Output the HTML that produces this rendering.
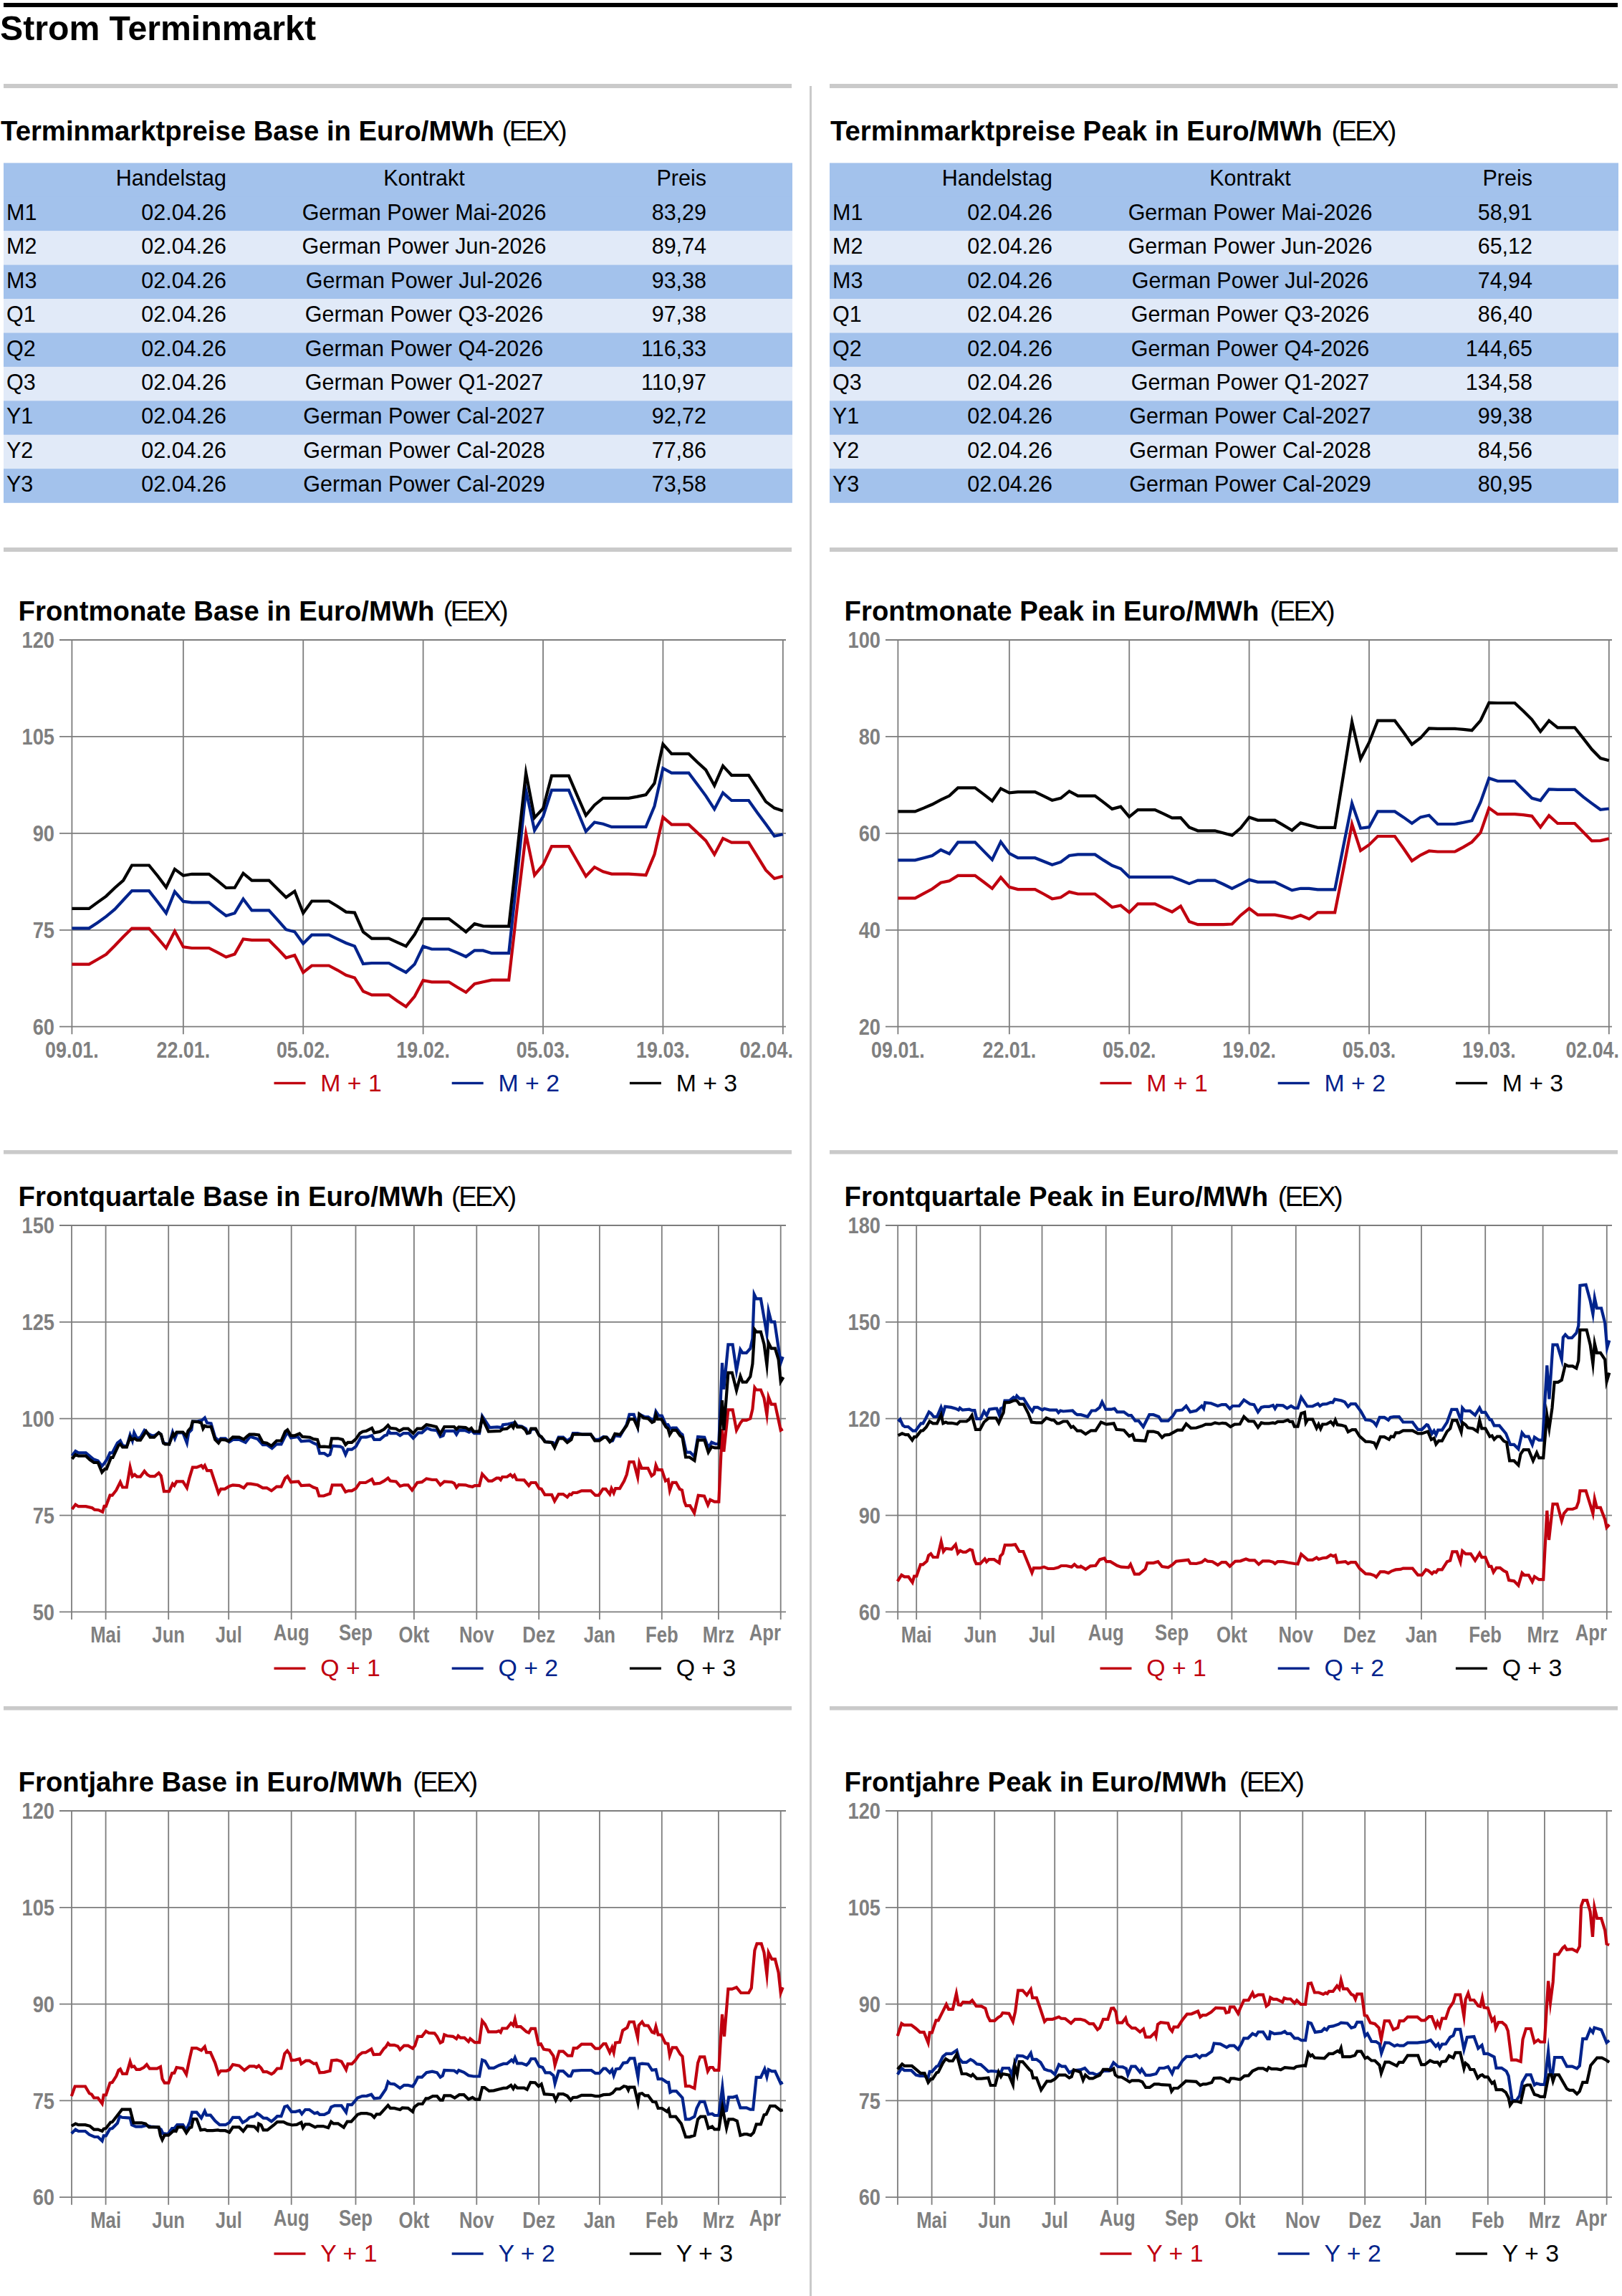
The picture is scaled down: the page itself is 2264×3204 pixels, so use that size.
<!DOCTYPE html>
<html><head><meta charset="utf-8"><title>Strom Terminmarkt</title>
<style>
html,body{margin:0;padding:0;background:#fff;}
body{width:2264px;height:3204px;position:relative;overflow:hidden;font-family:"Liberation Sans",sans-serif;color:#000;}
.a{position:absolute;}
.bar{position:absolute;background:#cacaca;}
</style></head><body>

<svg class="a" style="left:0;top:0" width="2264" height="3204" viewBox="0 0 2264 3204" font-family="Liberation Sans, sans-serif">
<rect x="5.00" y="4.00" width="2253.00" height="6.00" fill="#000"/>
<text x="0.00" y="55.50" font-size="48.2" font-weight="bold" text-anchor="start" fill="#000" >Strom Terminmarkt</text>
<rect x="5.00" y="117.00" width="1100.00" height="6.00" fill="#cacaca"/>
<rect x="1158.00" y="117.00" width="1100.00" height="6.00" fill="#cacaca"/>
<rect x="1130.00" y="120.00" width="3.00" height="3084.00" fill="#cacaca"/>
<text x="1.10" y="196" font-size="38.3" font-weight="bold">Terminmarktpreise Base in Euro/MWh</text>
<text x="700.70" y="196" font-size="38" letter-spacing="-2.6">(EEX)</text>
<rect x="5.00" y="227.40" width="1101.00" height="47.71" fill="#a3c2ec"/>
<rect x="5.00" y="274.81" width="1101.00" height="47.71" fill="#a3c2ec"/>
<rect x="5.00" y="322.22" width="1101.00" height="47.71" fill="#e1eaf8"/>
<rect x="5.00" y="369.63" width="1101.00" height="47.71" fill="#a3c2ec"/>
<rect x="5.00" y="417.04" width="1101.00" height="47.71" fill="#e1eaf8"/>
<rect x="5.00" y="464.45" width="1101.00" height="47.71" fill="#a3c2ec"/>
<rect x="5.00" y="511.86" width="1101.00" height="47.71" fill="#e1eaf8"/>
<rect x="5.00" y="559.27" width="1101.00" height="47.71" fill="#a3c2ec"/>
<rect x="5.00" y="606.68" width="1101.00" height="47.71" fill="#e1eaf8"/>
<rect x="5.00" y="654.09" width="1101.00" height="47.71" fill="#a3c2ec"/>
<text x="316.00" y="259.40" font-size="30.5" font-weight="normal" text-anchor="end" fill="#000" >Handelstag</text>
<text x="592.00" y="259.40" font-size="30.5" font-weight="normal" text-anchor="middle" fill="#000" >Kontrakt</text>
<text x="986.00" y="259.40" font-size="30.5" font-weight="normal" text-anchor="end" fill="#000" >Preis</text>
<text x="9.00" y="306.84" font-size="30.5" font-weight="normal" text-anchor="start" fill="#000" >M1</text>
<text x="316.00" y="306.84" font-size="30.5" font-weight="normal" text-anchor="end" fill="#000" >02.04.26</text>
<text x="592.00" y="306.84" font-size="30.5" font-weight="normal" text-anchor="middle" fill="#000" >German Power Mai-2026</text>
<text x="986.00" y="306.84" font-size="30.5" font-weight="normal" text-anchor="end" fill="#000" >83,29</text>
<text x="9.00" y="354.28" font-size="30.5" font-weight="normal" text-anchor="start" fill="#000" >M2</text>
<text x="316.00" y="354.28" font-size="30.5" font-weight="normal" text-anchor="end" fill="#000" >02.04.26</text>
<text x="592.00" y="354.28" font-size="30.5" font-weight="normal" text-anchor="middle" fill="#000" >German Power Jun-2026</text>
<text x="986.00" y="354.28" font-size="30.5" font-weight="normal" text-anchor="end" fill="#000" >89,74</text>
<text x="9.00" y="401.72" font-size="30.5" font-weight="normal" text-anchor="start" fill="#000" >M3</text>
<text x="316.00" y="401.72" font-size="30.5" font-weight="normal" text-anchor="end" fill="#000" >02.04.26</text>
<text x="592.00" y="401.72" font-size="30.5" font-weight="normal" text-anchor="middle" fill="#000" >German Power Jul-2026</text>
<text x="986.00" y="401.72" font-size="30.5" font-weight="normal" text-anchor="end" fill="#000" >93,38</text>
<text x="9.00" y="449.16" font-size="30.5" font-weight="normal" text-anchor="start" fill="#000" >Q1</text>
<text x="316.00" y="449.16" font-size="30.5" font-weight="normal" text-anchor="end" fill="#000" >02.04.26</text>
<text x="592.00" y="449.16" font-size="30.5" font-weight="normal" text-anchor="middle" fill="#000" >German Power Q3-2026</text>
<text x="986.00" y="449.16" font-size="30.5" font-weight="normal" text-anchor="end" fill="#000" >97,38</text>
<text x="9.00" y="496.60" font-size="30.5" font-weight="normal" text-anchor="start" fill="#000" >Q2</text>
<text x="316.00" y="496.60" font-size="30.5" font-weight="normal" text-anchor="end" fill="#000" >02.04.26</text>
<text x="592.00" y="496.60" font-size="30.5" font-weight="normal" text-anchor="middle" fill="#000" >German Power Q4-2026</text>
<text x="986.00" y="496.60" font-size="30.5" font-weight="normal" text-anchor="end" fill="#000" >116,33</text>
<text x="9.00" y="544.04" font-size="30.5" font-weight="normal" text-anchor="start" fill="#000" >Q3</text>
<text x="316.00" y="544.04" font-size="30.5" font-weight="normal" text-anchor="end" fill="#000" >02.04.26</text>
<text x="592.00" y="544.04" font-size="30.5" font-weight="normal" text-anchor="middle" fill="#000" >German Power Q1-2027</text>
<text x="986.00" y="544.04" font-size="30.5" font-weight="normal" text-anchor="end" fill="#000" >110,97</text>
<text x="9.00" y="591.48" font-size="30.5" font-weight="normal" text-anchor="start" fill="#000" >Y1</text>
<text x="316.00" y="591.48" font-size="30.5" font-weight="normal" text-anchor="end" fill="#000" >02.04.26</text>
<text x="592.00" y="591.48" font-size="30.5" font-weight="normal" text-anchor="middle" fill="#000" >German Power Cal-2027</text>
<text x="986.00" y="591.48" font-size="30.5" font-weight="normal" text-anchor="end" fill="#000" >92,72</text>
<text x="9.00" y="638.92" font-size="30.5" font-weight="normal" text-anchor="start" fill="#000" >Y2</text>
<text x="316.00" y="638.92" font-size="30.5" font-weight="normal" text-anchor="end" fill="#000" >02.04.26</text>
<text x="592.00" y="638.92" font-size="30.5" font-weight="normal" text-anchor="middle" fill="#000" >German Power Cal-2028</text>
<text x="986.00" y="638.92" font-size="30.5" font-weight="normal" text-anchor="end" fill="#000" >77,86</text>
<text x="9.00" y="686.36" font-size="30.5" font-weight="normal" text-anchor="start" fill="#000" >Y3</text>
<text x="316.00" y="686.36" font-size="30.5" font-weight="normal" text-anchor="end" fill="#000" >02.04.26</text>
<text x="592.00" y="686.36" font-size="30.5" font-weight="normal" text-anchor="middle" fill="#000" >German Power Cal-2029</text>
<text x="986.00" y="686.36" font-size="30.5" font-weight="normal" text-anchor="end" fill="#000" >73,58</text>
<text x="1159.00" y="196" font-size="38.3" font-weight="bold">Terminmarktpreise Peak in Euro/MWh</text>
<text x="1858.50" y="196" font-size="38" letter-spacing="-2.6">(EEX)</text>
<rect x="1158.00" y="227.40" width="1101.00" height="47.71" fill="#a3c2ec"/>
<rect x="1158.00" y="274.81" width="1101.00" height="47.71" fill="#a3c2ec"/>
<rect x="1158.00" y="322.22" width="1101.00" height="47.71" fill="#e1eaf8"/>
<rect x="1158.00" y="369.63" width="1101.00" height="47.71" fill="#a3c2ec"/>
<rect x="1158.00" y="417.04" width="1101.00" height="47.71" fill="#e1eaf8"/>
<rect x="1158.00" y="464.45" width="1101.00" height="47.71" fill="#a3c2ec"/>
<rect x="1158.00" y="511.86" width="1101.00" height="47.71" fill="#e1eaf8"/>
<rect x="1158.00" y="559.27" width="1101.00" height="47.71" fill="#a3c2ec"/>
<rect x="1158.00" y="606.68" width="1101.00" height="47.71" fill="#e1eaf8"/>
<rect x="1158.00" y="654.09" width="1101.00" height="47.71" fill="#a3c2ec"/>
<text x="1469.00" y="259.40" font-size="30.5" font-weight="normal" text-anchor="end" fill="#000" >Handelstag</text>
<text x="1745.00" y="259.40" font-size="30.5" font-weight="normal" text-anchor="middle" fill="#000" >Kontrakt</text>
<text x="2139.00" y="259.40" font-size="30.5" font-weight="normal" text-anchor="end" fill="#000" >Preis</text>
<text x="1162.00" y="306.84" font-size="30.5" font-weight="normal" text-anchor="start" fill="#000" >M1</text>
<text x="1469.00" y="306.84" font-size="30.5" font-weight="normal" text-anchor="end" fill="#000" >02.04.26</text>
<text x="1745.00" y="306.84" font-size="30.5" font-weight="normal" text-anchor="middle" fill="#000" >German Power Mai-2026</text>
<text x="2139.00" y="306.84" font-size="30.5" font-weight="normal" text-anchor="end" fill="#000" >58,91</text>
<text x="1162.00" y="354.28" font-size="30.5" font-weight="normal" text-anchor="start" fill="#000" >M2</text>
<text x="1469.00" y="354.28" font-size="30.5" font-weight="normal" text-anchor="end" fill="#000" >02.04.26</text>
<text x="1745.00" y="354.28" font-size="30.5" font-weight="normal" text-anchor="middle" fill="#000" >German Power Jun-2026</text>
<text x="2139.00" y="354.28" font-size="30.5" font-weight="normal" text-anchor="end" fill="#000" >65,12</text>
<text x="1162.00" y="401.72" font-size="30.5" font-weight="normal" text-anchor="start" fill="#000" >M3</text>
<text x="1469.00" y="401.72" font-size="30.5" font-weight="normal" text-anchor="end" fill="#000" >02.04.26</text>
<text x="1745.00" y="401.72" font-size="30.5" font-weight="normal" text-anchor="middle" fill="#000" >German Power Jul-2026</text>
<text x="2139.00" y="401.72" font-size="30.5" font-weight="normal" text-anchor="end" fill="#000" >74,94</text>
<text x="1162.00" y="449.16" font-size="30.5" font-weight="normal" text-anchor="start" fill="#000" >Q1</text>
<text x="1469.00" y="449.16" font-size="30.5" font-weight="normal" text-anchor="end" fill="#000" >02.04.26</text>
<text x="1745.00" y="449.16" font-size="30.5" font-weight="normal" text-anchor="middle" fill="#000" >German Power Q3-2026</text>
<text x="2139.00" y="449.16" font-size="30.5" font-weight="normal" text-anchor="end" fill="#000" >86,40</text>
<text x="1162.00" y="496.60" font-size="30.5" font-weight="normal" text-anchor="start" fill="#000" >Q2</text>
<text x="1469.00" y="496.60" font-size="30.5" font-weight="normal" text-anchor="end" fill="#000" >02.04.26</text>
<text x="1745.00" y="496.60" font-size="30.5" font-weight="normal" text-anchor="middle" fill="#000" >German Power Q4-2026</text>
<text x="2139.00" y="496.60" font-size="30.5" font-weight="normal" text-anchor="end" fill="#000" >144,65</text>
<text x="1162.00" y="544.04" font-size="30.5" font-weight="normal" text-anchor="start" fill="#000" >Q3</text>
<text x="1469.00" y="544.04" font-size="30.5" font-weight="normal" text-anchor="end" fill="#000" >02.04.26</text>
<text x="1745.00" y="544.04" font-size="30.5" font-weight="normal" text-anchor="middle" fill="#000" >German Power Q1-2027</text>
<text x="2139.00" y="544.04" font-size="30.5" font-weight="normal" text-anchor="end" fill="#000" >134,58</text>
<text x="1162.00" y="591.48" font-size="30.5" font-weight="normal" text-anchor="start" fill="#000" >Y1</text>
<text x="1469.00" y="591.48" font-size="30.5" font-weight="normal" text-anchor="end" fill="#000" >02.04.26</text>
<text x="1745.00" y="591.48" font-size="30.5" font-weight="normal" text-anchor="middle" fill="#000" >German Power Cal-2027</text>
<text x="2139.00" y="591.48" font-size="30.5" font-weight="normal" text-anchor="end" fill="#000" >99,38</text>
<text x="1162.00" y="638.92" font-size="30.5" font-weight="normal" text-anchor="start" fill="#000" >Y2</text>
<text x="1469.00" y="638.92" font-size="30.5" font-weight="normal" text-anchor="end" fill="#000" >02.04.26</text>
<text x="1745.00" y="638.92" font-size="30.5" font-weight="normal" text-anchor="middle" fill="#000" >German Power Cal-2028</text>
<text x="2139.00" y="638.92" font-size="30.5" font-weight="normal" text-anchor="end" fill="#000" >84,56</text>
<text x="1162.00" y="686.36" font-size="30.5" font-weight="normal" text-anchor="start" fill="#000" >Y3</text>
<text x="1469.00" y="686.36" font-size="30.5" font-weight="normal" text-anchor="end" fill="#000" >02.04.26</text>
<text x="1745.00" y="686.36" font-size="30.5" font-weight="normal" text-anchor="middle" fill="#000" >German Power Cal-2029</text>
<text x="2139.00" y="686.36" font-size="30.5" font-weight="normal" text-anchor="end" fill="#000" >80,95</text>
<rect x="5.00" y="764.00" width="1100.00" height="6.00" fill="#cacaca"/>
<rect x="1158.00" y="764.00" width="1100.00" height="6.00" fill="#cacaca"/>
<rect x="5.00" y="1605.00" width="1100.00" height="5.50" fill="#cacaca"/>
<rect x="1158.00" y="1605.00" width="1100.00" height="5.50" fill="#cacaca"/>
<rect x="5.00" y="2381.00" width="1100.00" height="5.50" fill="#cacaca"/>
<rect x="1158.00" y="2381.00" width="1100.00" height="5.50" fill="#cacaca"/>
<text x="25.60" y="865.70" font-size="38.3" font-weight="bold">Frontmonate Base in Euro/MWh</text>
<text x="618.70" y="865.70" font-size="38" letter-spacing="-2.6">(EEX)</text>
<line x1="83" y1="893.00" x2="1097" y2="893.00" stroke="#7d7d7d" stroke-width="1.8"/>
<g transform="translate(76.00,904.20) scale(0.88,1)"><text x="0" y="0" font-size="31" font-weight="bold" text-anchor="end" fill="#7f7f7f">120</text></g>
<line x1="83" y1="1027.92" x2="1097" y2="1027.92" stroke="#7d7d7d" stroke-width="1.8"/>
<g transform="translate(76.00,1039.12) scale(0.88,1)"><text x="0" y="0" font-size="31" font-weight="bold" text-anchor="end" fill="#7f7f7f">105</text></g>
<line x1="83" y1="1162.85" x2="1097" y2="1162.85" stroke="#7d7d7d" stroke-width="1.8"/>
<g transform="translate(76.00,1174.05) scale(0.88,1)"><text x="0" y="0" font-size="31" font-weight="bold" text-anchor="end" fill="#7f7f7f">90</text></g>
<line x1="83" y1="1297.78" x2="1097" y2="1297.78" stroke="#7d7d7d" stroke-width="1.8"/>
<g transform="translate(76.00,1308.98) scale(0.88,1)"><text x="0" y="0" font-size="31" font-weight="bold" text-anchor="end" fill="#7f7f7f">75</text></g>
<line x1="83" y1="1432.70" x2="1097" y2="1432.70" stroke="#7d7d7d" stroke-width="1.8"/>
<g transform="translate(76.00,1443.90) scale(0.88,1)"><text x="0" y="0" font-size="31" font-weight="bold" text-anchor="end" fill="#7f7f7f">60</text></g>
<line x1="100.40" y1="893.00" x2="100.40" y2="1443.20" stroke="#7d7d7d" stroke-width="1.8"/>
<line x1="255.84" y1="893.00" x2="255.84" y2="1443.20" stroke="#7d7d7d" stroke-width="1.8"/>
<line x1="423.24" y1="893.00" x2="423.24" y2="1443.20" stroke="#7d7d7d" stroke-width="1.8"/>
<line x1="590.64" y1="893.00" x2="590.64" y2="1443.20" stroke="#7d7d7d" stroke-width="1.8"/>
<line x1="758.03" y1="893.00" x2="758.03" y2="1443.20" stroke="#7d7d7d" stroke-width="1.8"/>
<line x1="925.43" y1="893.00" x2="925.43" y2="1443.20" stroke="#7d7d7d" stroke-width="1.8"/>
<line x1="1092.83" y1="893.00" x2="1092.83" y2="1443.20" stroke="#7d7d7d" stroke-width="1.8"/>
<g transform="translate(100.40,1475.80) scale(0.866,1)"><text x="0" y="0" font-size="31" font-weight="bold" text-anchor="middle" fill="#7f7f7f">09.01.</text></g>
<g transform="translate(255.84,1475.80) scale(0.866,1)"><text x="0" y="0" font-size="31" font-weight="bold" text-anchor="middle" fill="#7f7f7f">22.01.</text></g>
<g transform="translate(423.24,1475.80) scale(0.866,1)"><text x="0" y="0" font-size="31" font-weight="bold" text-anchor="middle" fill="#7f7f7f">05.02.</text></g>
<g transform="translate(590.64,1475.80) scale(0.866,1)"><text x="0" y="0" font-size="31" font-weight="bold" text-anchor="middle" fill="#7f7f7f">19.02.</text></g>
<g transform="translate(758.03,1475.80) scale(0.866,1)"><text x="0" y="0" font-size="31" font-weight="bold" text-anchor="middle" fill="#7f7f7f">05.03.</text></g>
<g transform="translate(925.43,1475.80) scale(0.866,1)"><text x="0" y="0" font-size="31" font-weight="bold" text-anchor="middle" fill="#7f7f7f">19.03.</text></g>
<g transform="translate(1107.00,1475.80) scale(0.866,1)"><text x="0" y="0" font-size="31" font-weight="bold" text-anchor="end" fill="#7f7f7f">02.04.</text></g>
<polyline points="100.4,1345.6 112.4,1345.6 124.3,1345.6 136.3,1338.7 148.2,1331.8 160.2,1319.8 172.1,1307.2 184.1,1295.6 196.1,1295.6 208.0,1295.6 220.0,1308.8 231.9,1323.0 243.9,1299.4 255.8,1321.4 267.8,1323.0 279.8,1323.0 291.7,1323.0 303.7,1329.2 315.6,1335.5 327.6,1331.4 339.5,1310.4 351.5,1311.9 363.5,1311.9 375.4,1311.9 387.4,1323.9 399.3,1336.5 411.3,1333.0 423.2,1356.9 435.2,1347.5 447.2,1347.5 459.1,1347.5 471.1,1353.8 483.0,1360.7 495.0,1364.5 506.9,1383.3 518.9,1388.4 530.9,1388.4 542.8,1388.4 554.8,1396.9 566.7,1404.7 578.7,1390.6 590.6,1368.1 602.6,1370.3 614.6,1370.3 626.5,1370.3 638.5,1377.7 650.4,1384.7 662.4,1372.9 674.3,1370.3 686.3,1367.7 698.2,1367.7 710.2,1367.7 722.2,1262.9 734.1,1163.5 746.1,1221.2 758.0,1206.8 770.0,1181.1 781.9,1181.1 793.9,1181.1 805.9,1202.0 817.8,1222.8 829.8,1210.0 841.7,1216.4 853.7,1219.6 865.6,1219.6 877.6,1219.6 889.6,1220.3 901.5,1221.2 913.5,1192.4 925.4,1140.4 937.4,1150.7 949.3,1150.7 961.3,1150.7 973.3,1161.9 985.2,1173.1 997.2,1192.4 1009.1,1169.9 1021.1,1175.7 1033.0,1175.7 1045.0,1175.7 1057.0,1194.9 1068.9,1214.2 1080.9,1226.0 1092.8,1222.8" fill="none" stroke="#c0000f" stroke-width="4.2" stroke-linejoin="miter" stroke-miterlimit="10"/>
<polyline points="100.4,1295.3 112.4,1295.3 124.3,1295.3 136.3,1287.4 148.2,1278.9 160.2,1268.9 172.1,1256.0 184.1,1243.1 196.1,1243.1 208.0,1243.1 220.0,1258.5 231.9,1274.2 243.9,1244.3 255.8,1257.9 267.8,1259.4 279.8,1259.4 291.7,1259.4 303.7,1268.9 315.6,1278.0 327.6,1274.2 339.5,1254.4 351.5,1270.4 363.5,1270.4 375.4,1270.4 387.4,1283.6 399.3,1297.2 411.3,1300.3 423.2,1316.7 435.2,1304.7 447.2,1304.7 459.1,1304.7 471.1,1310.4 483.0,1316.0 495.0,1320.4 506.9,1345.0 518.9,1344.0 530.9,1344.0 542.8,1344.0 554.8,1350.6 566.7,1356.9 578.7,1345.6 590.6,1320.6 602.6,1324.5 614.6,1324.5 626.5,1324.5 638.5,1329.6 650.4,1335.0 662.4,1326.4 674.3,1326.4 686.3,1330.2 698.2,1330.2 710.2,1330.2 722.2,1218.0 734.1,1102.6 746.1,1158.7 758.0,1139.5 770.0,1102.6 781.9,1102.6 793.9,1102.6 805.9,1131.5 817.8,1160.3 829.8,1147.5 841.7,1149.7 853.7,1153.9 865.6,1153.9 877.6,1153.9 889.6,1153.9 901.5,1153.9 913.5,1125.0 925.4,1072.1 937.4,1078.6 949.3,1078.6 961.3,1078.6 973.3,1094.6 985.2,1110.6 997.2,1129.2 1009.1,1106.4 1021.1,1117.0 1033.0,1117.0 1045.0,1117.0 1057.0,1134.0 1068.9,1150.0 1080.9,1166.7 1092.8,1164.2" fill="none" stroke="#00238c" stroke-width="4.2" stroke-linejoin="miter" stroke-miterlimit="10"/>
<polyline points="100.4,1267.9 112.4,1267.9 124.3,1267.9 136.3,1259.1 148.2,1250.6 160.2,1239.0 172.1,1228.6 184.1,1207.5 196.1,1207.5 208.0,1207.5 220.0,1222.3 231.9,1238.1 243.9,1212.9 255.8,1221.7 267.8,1219.8 279.8,1219.8 291.7,1219.8 303.7,1229.2 315.6,1239.0 327.6,1238.7 339.5,1218.6 351.5,1228.6 363.5,1228.6 375.4,1228.6 387.4,1240.6 399.3,1252.2 411.3,1243.7 423.2,1274.2 435.2,1257.5 447.2,1257.5 459.1,1257.5 471.1,1264.8 483.0,1272.6 495.0,1273.6 506.9,1300.3 518.9,1309.7 530.9,1309.7 542.8,1309.7 554.8,1315.1 566.7,1320.4 578.7,1304.1 590.6,1282.1 602.6,1282.1 614.6,1282.1 626.5,1282.1 638.5,1291.1 650.4,1300.4 662.4,1289.2 674.3,1292.4 686.3,1292.7 698.2,1292.7 710.2,1292.7 722.2,1186.0 734.1,1078.6 746.1,1141.1 758.0,1128.2 770.0,1082.7 781.9,1082.7 793.9,1082.7 805.9,1110.6 817.8,1137.9 829.8,1123.4 841.7,1113.8 853.7,1113.8 865.6,1113.8 877.6,1113.8 889.6,1111.6 901.5,1109.0 913.5,1093.0 925.4,1038.5 937.4,1051.9 949.3,1051.9 961.3,1051.9 973.3,1063.5 985.2,1074.4 997.2,1096.2 1009.1,1068.9 1021.1,1081.8 1033.0,1081.8 1045.0,1081.8 1057.0,1100.0 1068.9,1118.6 1080.9,1127.6 1092.8,1131.5" fill="none" stroke="#000000" stroke-width="4.2" stroke-linejoin="miter" stroke-miterlimit="10"/>
<rect x="382.50" y="1509.80" width="44.00" height="3.40" fill="#c0000f"/>
<text x="447.30" y="1522.70" font-size="33.8" font-weight="normal" text-anchor="start" fill="#c0000f" >M + 1</text>
<rect x="630.70" y="1509.80" width="44.00" height="3.40" fill="#00238c"/>
<text x="695.50" y="1522.70" font-size="33.8" font-weight="normal" text-anchor="start" fill="#00238c" >M + 2</text>
<rect x="878.90" y="1509.80" width="44.00" height="3.40" fill="#000000"/>
<text x="943.70" y="1522.70" font-size="33.8" font-weight="normal" text-anchor="start" fill="#000000" >M + 3</text>
<text x="1178.60" y="865.70" font-size="38.3" font-weight="bold">Frontmonate Peak in Euro/MWh</text>
<text x="1772.60" y="865.70" font-size="38" letter-spacing="-2.6">(EEX)</text>
<line x1="1236" y1="893.00" x2="2250" y2="893.00" stroke="#7d7d7d" stroke-width="1.8"/>
<g transform="translate(1229.00,904.20) scale(0.88,1)"><text x="0" y="0" font-size="31" font-weight="bold" text-anchor="end" fill="#7f7f7f">100</text></g>
<line x1="1236" y1="1027.92" x2="2250" y2="1027.92" stroke="#7d7d7d" stroke-width="1.8"/>
<g transform="translate(1229.00,1039.12) scale(0.88,1)"><text x="0" y="0" font-size="31" font-weight="bold" text-anchor="end" fill="#7f7f7f">80</text></g>
<line x1="1236" y1="1162.85" x2="2250" y2="1162.85" stroke="#7d7d7d" stroke-width="1.8"/>
<g transform="translate(1229.00,1174.05) scale(0.88,1)"><text x="0" y="0" font-size="31" font-weight="bold" text-anchor="end" fill="#7f7f7f">60</text></g>
<line x1="1236" y1="1297.78" x2="2250" y2="1297.78" stroke="#7d7d7d" stroke-width="1.8"/>
<g transform="translate(1229.00,1308.98) scale(0.88,1)"><text x="0" y="0" font-size="31" font-weight="bold" text-anchor="end" fill="#7f7f7f">40</text></g>
<line x1="1236" y1="1432.70" x2="2250" y2="1432.70" stroke="#7d7d7d" stroke-width="1.8"/>
<g transform="translate(1229.00,1443.90) scale(0.88,1)"><text x="0" y="0" font-size="31" font-weight="bold" text-anchor="end" fill="#7f7f7f">20</text></g>
<line x1="1253.40" y1="893.00" x2="1253.40" y2="1443.20" stroke="#7d7d7d" stroke-width="1.8"/>
<line x1="1408.84" y1="893.00" x2="1408.84" y2="1443.20" stroke="#7d7d7d" stroke-width="1.8"/>
<line x1="1576.24" y1="893.00" x2="1576.24" y2="1443.20" stroke="#7d7d7d" stroke-width="1.8"/>
<line x1="1743.64" y1="893.00" x2="1743.64" y2="1443.20" stroke="#7d7d7d" stroke-width="1.8"/>
<line x1="1911.03" y1="893.00" x2="1911.03" y2="1443.20" stroke="#7d7d7d" stroke-width="1.8"/>
<line x1="2078.43" y1="893.00" x2="2078.43" y2="1443.20" stroke="#7d7d7d" stroke-width="1.8"/>
<line x1="2245.83" y1="893.00" x2="2245.83" y2="1443.20" stroke="#7d7d7d" stroke-width="1.8"/>
<g transform="translate(1253.40,1475.80) scale(0.866,1)"><text x="0" y="0" font-size="31" font-weight="bold" text-anchor="middle" fill="#7f7f7f">09.01.</text></g>
<g transform="translate(1408.84,1475.80) scale(0.866,1)"><text x="0" y="0" font-size="31" font-weight="bold" text-anchor="middle" fill="#7f7f7f">22.01.</text></g>
<g transform="translate(1576.24,1475.80) scale(0.866,1)"><text x="0" y="0" font-size="31" font-weight="bold" text-anchor="middle" fill="#7f7f7f">05.02.</text></g>
<g transform="translate(1743.64,1475.80) scale(0.866,1)"><text x="0" y="0" font-size="31" font-weight="bold" text-anchor="middle" fill="#7f7f7f">19.02.</text></g>
<g transform="translate(1911.03,1475.80) scale(0.866,1)"><text x="0" y="0" font-size="31" font-weight="bold" text-anchor="middle" fill="#7f7f7f">05.03.</text></g>
<g transform="translate(2078.43,1475.80) scale(0.866,1)"><text x="0" y="0" font-size="31" font-weight="bold" text-anchor="middle" fill="#7f7f7f">19.03.</text></g>
<g transform="translate(2260.00,1475.80) scale(0.866,1)"><text x="0" y="0" font-size="31" font-weight="bold" text-anchor="end" fill="#7f7f7f">02.04.</text></g>
<polyline points="1253.4,1253.3 1265.4,1253.3 1277.3,1253.3 1289.3,1246.9 1301.2,1240.5 1313.2,1231.8 1325.1,1229.2 1337.1,1221.9 1349.1,1221.9 1361.0,1221.9 1373.0,1230.8 1384.9,1239.8 1396.9,1224.4 1408.8,1237.9 1420.8,1241.1 1432.8,1241.1 1444.7,1241.1 1456.7,1247.5 1468.6,1254.2 1480.6,1252.3 1492.5,1244.6 1504.5,1247.5 1516.5,1247.5 1528.4,1247.5 1540.4,1256.5 1552.3,1266.1 1564.3,1263.5 1576.2,1273.2 1588.2,1261.3 1600.2,1261.3 1612.1,1261.3 1624.1,1267.1 1636.0,1272.5 1648.0,1264.5 1659.9,1286.0 1671.9,1290.2 1683.9,1290.2 1695.8,1290.2 1707.8,1290.2 1719.7,1289.5 1731.7,1277.3 1743.6,1267.7 1755.6,1276.6 1767.6,1276.6 1779.5,1276.6 1791.5,1278.9 1803.4,1281.5 1815.4,1277.3 1827.3,1282.4 1839.3,1273.4 1851.2,1273.4 1863.2,1273.4 1875.2,1212.5 1887.1,1150.0 1899.1,1186.9 1911.0,1178.9 1923.0,1167.0 1934.9,1167.0 1946.9,1167.0 1958.9,1183.7 1970.8,1201.3 1982.8,1193.3 1994.7,1187.5 2006.7,1188.5 2018.6,1188.5 2030.6,1188.5 2042.6,1182.1 2054.5,1175.0 2066.5,1161.9 2078.4,1127.6 2090.4,1136.2 2102.3,1136.2 2114.3,1136.2 2126.3,1137.2 2138.2,1138.8 2150.2,1154.2 2162.1,1138.1 2174.1,1149.0 2186.0,1149.0 2198.0,1149.0 2210.0,1161.2 2221.9,1173.4 2233.9,1173.1 2245.8,1170.2" fill="none" stroke="#c0000f" stroke-width="4.2" stroke-linejoin="miter" stroke-miterlimit="10"/>
<polyline points="1253.4,1200.4 1265.4,1200.4 1277.3,1200.4 1289.3,1197.2 1301.2,1194.0 1313.2,1186.0 1325.1,1191.4 1337.1,1175.4 1349.1,1175.4 1361.0,1175.4 1373.0,1187.6 1384.9,1199.7 1396.9,1174.7 1408.8,1190.8 1420.8,1197.2 1432.8,1197.2 1444.7,1197.2 1456.7,1202.0 1468.6,1206.8 1480.6,1202.9 1492.5,1194.0 1504.5,1192.4 1516.5,1192.4 1528.4,1192.4 1540.4,1200.4 1552.3,1207.8 1564.3,1212.2 1576.2,1223.8 1588.2,1223.8 1600.2,1223.8 1612.1,1223.8 1624.1,1223.8 1636.0,1223.8 1648.0,1228.3 1659.9,1233.1 1671.9,1228.6 1683.9,1228.6 1695.8,1228.6 1707.8,1234.0 1719.7,1239.8 1731.7,1234.0 1743.6,1227.6 1755.6,1230.8 1767.6,1230.8 1779.5,1230.8 1791.5,1236.6 1803.4,1242.3 1815.4,1239.8 1827.3,1239.8 1839.3,1241.4 1851.2,1241.4 1863.2,1241.4 1875.2,1180.5 1887.1,1121.1 1899.1,1155.8 1911.0,1154.2 1923.0,1132.4 1934.9,1132.4 1946.9,1132.4 1958.9,1140.4 1970.8,1149.0 1982.8,1140.4 1994.7,1137.8 2006.7,1150.0 2018.6,1150.0 2030.6,1150.0 2042.6,1147.8 2054.5,1145.2 2066.5,1119.5 2078.4,1085.9 2090.4,1090.0 2102.3,1090.0 2114.3,1090.0 2126.3,1101.9 2138.2,1113.8 2150.2,1117.0 2162.1,1101.3 2174.1,1101.9 2186.0,1101.9 2198.0,1101.9 2210.0,1112.2 2221.9,1121.1 2233.9,1129.8 2245.8,1128.5" fill="none" stroke="#00238c" stroke-width="4.2" stroke-linejoin="miter" stroke-miterlimit="10"/>
<polyline points="1253.4,1132.4 1265.4,1132.4 1277.3,1132.4 1289.3,1127.6 1301.2,1122.5 1313.2,1116.1 1325.1,1110.6 1337.1,1099.4 1349.1,1099.4 1361.0,1099.4 1373.0,1108.4 1384.9,1117.7 1396.9,1100.4 1408.8,1106.4 1420.8,1105.2 1432.8,1105.2 1444.7,1105.2 1456.7,1110.9 1468.6,1116.7 1480.6,1113.8 1492.5,1104.2 1504.5,1110.6 1516.5,1110.6 1528.4,1110.6 1540.4,1119.6 1552.3,1128.9 1564.3,1125.7 1576.2,1139.8 1588.2,1130.2 1600.2,1130.2 1612.1,1130.2 1624.1,1135.6 1636.0,1141.4 1648.0,1141.1 1659.9,1154.5 1671.9,1159.3 1683.9,1159.3 1695.8,1159.3 1707.8,1162.6 1719.7,1165.8 1731.7,1155.5 1743.6,1140.4 1755.6,1144.6 1767.6,1144.6 1779.5,1144.6 1791.5,1151.6 1803.4,1158.7 1815.4,1148.4 1827.3,1151.6 1839.3,1154.8 1851.2,1154.8 1863.2,1154.8 1875.2,1081.1 1887.1,1007.3 1899.1,1059.3 1911.0,1036.2 1923.0,1005.7 1934.9,1005.7 1946.9,1005.7 1958.9,1021.8 1970.8,1038.7 1982.8,1029.8 1994.7,1016.3 2006.7,1016.9 2018.6,1016.9 2030.6,1016.9 2042.6,1017.9 2054.5,1019.2 2066.5,1005.7 2078.4,980.7 2090.4,981.0 2102.3,981.0 2114.3,981.0 2126.3,992.3 2138.2,1004.1 2150.2,1020.8 2162.1,1005.7 2174.1,1015.3 2186.0,1015.3 2198.0,1015.3 2210.0,1030.4 2221.9,1045.8 2233.9,1058.0 2245.8,1061.2" fill="none" stroke="#000000" stroke-width="4.2" stroke-linejoin="miter" stroke-miterlimit="10"/>
<rect x="1535.50" y="1509.80" width="44.00" height="3.40" fill="#c0000f"/>
<text x="1600.30" y="1522.70" font-size="33.8" font-weight="normal" text-anchor="start" fill="#c0000f" >M + 1</text>
<rect x="1783.70" y="1509.80" width="44.00" height="3.40" fill="#00238c"/>
<text x="1848.50" y="1522.70" font-size="33.8" font-weight="normal" text-anchor="start" fill="#00238c" >M + 2</text>
<rect x="2031.90" y="1509.80" width="44.00" height="3.40" fill="#000000"/>
<text x="2096.70" y="1522.70" font-size="33.8" font-weight="normal" text-anchor="start" fill="#000000" >M + 3</text>
<text x="25.60" y="1682.70" font-size="38.3" font-weight="bold">Frontquartale Base in Euro/MWh</text>
<text x="630.10" y="1682.70" font-size="38" letter-spacing="-2.6">(EEX)</text>
<line x1="83" y1="1710.00" x2="1097" y2="1710.00" stroke="#7d7d7d" stroke-width="1.8"/>
<g transform="translate(76.00,1721.20) scale(0.88,1)"><text x="0" y="0" font-size="31" font-weight="bold" text-anchor="end" fill="#7f7f7f">150</text></g>
<line x1="83" y1="1844.85" x2="1097" y2="1844.85" stroke="#7d7d7d" stroke-width="1.8"/>
<g transform="translate(76.00,1856.05) scale(0.88,1)"><text x="0" y="0" font-size="31" font-weight="bold" text-anchor="end" fill="#7f7f7f">125</text></g>
<line x1="83" y1="1979.70" x2="1097" y2="1979.70" stroke="#7d7d7d" stroke-width="1.8"/>
<g transform="translate(76.00,1990.90) scale(0.88,1)"><text x="0" y="0" font-size="31" font-weight="bold" text-anchor="end" fill="#7f7f7f">100</text></g>
<line x1="83" y1="2114.55" x2="1097" y2="2114.55" stroke="#7d7d7d" stroke-width="1.8"/>
<g transform="translate(76.00,2125.75) scale(0.88,1)"><text x="0" y="0" font-size="31" font-weight="bold" text-anchor="end" fill="#7f7f7f">75</text></g>
<line x1="83" y1="2249.40" x2="1097" y2="2249.40" stroke="#7d7d7d" stroke-width="1.8"/>
<g transform="translate(76.00,2260.60) scale(0.88,1)"><text x="0" y="0" font-size="31" font-weight="bold" text-anchor="end" fill="#7f7f7f">50</text></g>
<line x1="100.00" y1="1710.00" x2="100.00" y2="2259.90" stroke="#7d7d7d" stroke-width="1.8"/>
<line x1="147.60" y1="1710.00" x2="147.60" y2="2259.90" stroke="#7d7d7d" stroke-width="1.8"/>
<line x1="235.20" y1="1710.00" x2="235.20" y2="2259.90" stroke="#7d7d7d" stroke-width="1.8"/>
<line x1="319.20" y1="1710.00" x2="319.20" y2="2259.90" stroke="#7d7d7d" stroke-width="1.8"/>
<line x1="406.70" y1="1710.00" x2="406.70" y2="2259.90" stroke="#7d7d7d" stroke-width="1.8"/>
<line x1="496.50" y1="1710.00" x2="496.50" y2="2259.90" stroke="#7d7d7d" stroke-width="1.8"/>
<line x1="577.90" y1="1710.00" x2="577.90" y2="2259.90" stroke="#7d7d7d" stroke-width="1.8"/>
<line x1="665.30" y1="1710.00" x2="665.30" y2="2259.90" stroke="#7d7d7d" stroke-width="1.8"/>
<line x1="752.20" y1="1710.00" x2="752.20" y2="2259.90" stroke="#7d7d7d" stroke-width="1.8"/>
<line x1="836.90" y1="1710.00" x2="836.90" y2="2259.90" stroke="#7d7d7d" stroke-width="1.8"/>
<line x1="923.80" y1="1710.00" x2="923.80" y2="2259.90" stroke="#7d7d7d" stroke-width="1.8"/>
<line x1="1002.90" y1="1710.00" x2="1002.90" y2="2259.90" stroke="#7d7d7d" stroke-width="1.8"/>
<line x1="1089.70" y1="1710.00" x2="1089.70" y2="2259.90" stroke="#7d7d7d" stroke-width="1.8"/>
<g transform="translate(147.60,2291.70) scale(0.83,1)"><text x="0" y="0" font-size="31" font-weight="bold" text-anchor="middle" fill="#7f7f7f">Mai</text></g>
<g transform="translate(235.20,2291.70) scale(0.83,1)"><text x="0" y="0" font-size="31" font-weight="bold" text-anchor="middle" fill="#7f7f7f">Jun</text></g>
<g transform="translate(319.20,2291.70) scale(0.83,1)"><text x="0" y="0" font-size="31" font-weight="bold" text-anchor="middle" fill="#7f7f7f">Jul</text></g>
<g transform="translate(406.70,2289.10) scale(0.83,1)"><text x="0" y="0" font-size="31" font-weight="bold" text-anchor="middle" fill="#7f7f7f">Aug</text></g>
<g transform="translate(496.50,2289.10) scale(0.83,1)"><text x="0" y="0" font-size="31" font-weight="bold" text-anchor="middle" fill="#7f7f7f">Sep</text></g>
<g transform="translate(577.90,2291.70) scale(0.83,1)"><text x="0" y="0" font-size="31" font-weight="bold" text-anchor="middle" fill="#7f7f7f">Okt</text></g>
<g transform="translate(665.30,2291.70) scale(0.83,1)"><text x="0" y="0" font-size="31" font-weight="bold" text-anchor="middle" fill="#7f7f7f">Nov</text></g>
<g transform="translate(752.20,2291.70) scale(0.83,1)"><text x="0" y="0" font-size="31" font-weight="bold" text-anchor="middle" fill="#7f7f7f">Dez</text></g>
<g transform="translate(836.90,2291.70) scale(0.83,1)"><text x="0" y="0" font-size="31" font-weight="bold" text-anchor="middle" fill="#7f7f7f">Jan</text></g>
<g transform="translate(923.80,2291.70) scale(0.83,1)"><text x="0" y="0" font-size="31" font-weight="bold" text-anchor="middle" fill="#7f7f7f">Feb</text></g>
<g transform="translate(1002.90,2291.70) scale(0.83,1)"><text x="0" y="0" font-size="31" font-weight="bold" text-anchor="middle" fill="#7f7f7f">Mrz</text></g>
<g transform="translate(1090.00,2289.10) scale(0.83,1)"><text x="0" y="0" font-size="31" font-weight="bold" text-anchor="end" fill="#7f7f7f">Apr</text></g>
<polyline points="100.6,2105.9 105.4,2099.5 109.4,2102.2 119.8,2102.2 128.7,2104.3 131.9,2106.7 137.5,2107.2 143.1,2109.9 145.5,2101.9 147.9,2101.9 153.5,2086.7 156.7,2086.7 162.3,2079.5 167.9,2068.2 171.1,2075.5 176.8,2075.5 181.6,2047.4 184.8,2060.2 188.0,2057.8 191.2,2060.6 196.0,2060.6 201.6,2053.0 205.6,2057.8 209.6,2060.2 216.0,2060.2 221.6,2055.4 224.8,2059.4 228.9,2081.1 236.1,2081.1 240.9,2070.7 243.3,2073.1 246.5,2067.4 255.3,2067.4 260.9,2076.3 264.1,2063.4 268.9,2047.7 274.5,2047.7 281.0,2045.0 283.4,2048.2 285.8,2045.0 289.0,2052.2 294.6,2052.2 305.0,2083.5 308.2,2077.9 313.8,2077.9 320.2,2073.9 325.0,2072.3 333.9,2073.1 340.3,2076.3 345.1,2070.7 348.3,2070.7 350.0,2070.7 359.6,2072.3 366.8,2076.3 372.4,2076.3 378.9,2080.3 386.1,2074.7 392.5,2074.7 398.1,2062.6 401.3,2060.2 406.1,2068.2 416.5,2067.4 420.5,2073.1 431.8,2072.3 437.4,2075.5 442.2,2077.1 445.4,2087.5 451.8,2087.5 460.6,2084.3 463.8,2072.3 476.6,2072.3 482.3,2081.9 486.3,2080.3 491.1,2080.3 496.7,2077.1 502.3,2069.0 510.3,2069.0 519.1,2064.2 522.3,2070.7 530.3,2069.8 536.0,2066.6 541.6,2062.6 544.8,2066.6 552.8,2067.4 558.4,2073.9 564.0,2072.3 569.6,2072.3 575.2,2079.5 582.4,2069.0 588.9,2068.2 595.3,2063.4 603.3,2065.0 609.0,2065.0 614.6,2072.3 620.2,2067.4 630.6,2068.2 633.9,2069.8 637.1,2075.5 640.3,2071.8 649.9,2072.3 654.7,2073.9 659.5,2074.7 662.7,2073.1 669.1,2073.1 673.1,2057.0 681.9,2066.6 686.8,2066.6 693.2,2062.6 696.4,2062.6 698.8,2065.0 701.2,2061.0 707.6,2061.0 712.4,2057.8 715.6,2061.0 718.0,2058.6 721.2,2065.0 731.6,2065.4 738.1,2073.1 741.3,2069.0 747.7,2069.0 752.5,2077.1 755.7,2077.9 760.5,2085.9 770.1,2085.9 774.1,2094.7 779.7,2085.1 786.1,2085.1 791.8,2089.1 795.0,2085.1 797.4,2085.9 799.8,2083.0 805.4,2083.0 811.8,2080.3 824.6,2080.3 831.0,2086.7 835.8,2086.7 841.5,2077.9 845.5,2077.9 851.1,2085.1 853.5,2077.1 856.7,2083.5 859.1,2077.1 860.0,2077.1 865.1,2077.1 871.1,2066.9 874.8,2057.7 878.5,2040.1 884.5,2040.1 890.1,2061.4 892.4,2041.0 895.6,2048.9 904.4,2048.9 909.5,2059.5 913.2,2056.8 915.5,2044.7 918.3,2051.2 923.8,2051.2 928.9,2066.5 932.6,2064.6 934.9,2079.9 938.6,2068.8 943.7,2068.8 948.8,2078.0 952.0,2079.4 955.3,2095.6 957.6,2101.2 963.1,2101.2 969.1,2111.3 974.7,2086.8 983.0,2087.7 988.1,2100.2 991.3,2092.8 997.3,2095.6 1003.3,2095.6 1008.0,1994.2 1010.3,2025.8 1016.4,1967.3 1022.6,1967.3 1028.0,1995.8 1033.4,1985.8 1036.5,1981.9 1041.9,1981.9 1047.3,1979.6 1050.4,1966.5 1053.4,1936.4 1055.7,1939.5 1061.9,1939.5 1066.5,1951.1 1070.4,1974.2 1072.7,1949.5 1076.6,1959.6 1081.9,1959.6 1089.7,1995.8 1092.7,1994.2" fill="none" stroke="#c0000f" stroke-width="4.2" stroke-linejoin="miter" stroke-miterlimit="10"/>
<polyline points="100.6,2031.4 105.4,2025.0 109.4,2027.4 119.8,2027.4 125.5,2032.2 130.3,2036.2 136.7,2038.6 142.3,2045.8 146.3,2041.0 149.5,2036.2 153.5,2027.4 156.7,2027.4 163.9,2013.7 167.9,2010.5 171.1,2016.9 176.8,2018.6 181.6,2002.5 184.8,2010.5 187.2,1999.3 191.2,2007.3 196.0,2005.7 201.6,1996.1 207.2,2000.9 212.0,2003.3 216.0,2003.3 221.6,1999.3 224.8,2001.7 228.1,2013.7 236.1,2015.3 240.9,1998.5 244.1,2007.3 247.3,1999.3 255.3,1999.3 260.9,2013.7 263.3,1999.3 267.3,1995.3 268.9,1983.6 276.1,1983.3 281.8,1982.0 285.8,1978.5 289.0,1985.7 294.6,1986.5 300.2,2005.7 305.0,2010.5 308.2,2007.3 314.6,2007.3 320.2,2012.1 325.0,2008.9 333.9,2008.9 342.7,2012.9 348.3,2005.7 350.0,2004.9 359.6,2008.1 366.8,2016.1 372.4,2016.1 379.7,2021.0 386.1,2015.3 392.5,2015.3 398.1,2004.1 401.3,1998.5 406.1,2006.5 415.7,2004.9 420.5,2011.3 431.8,2010.5 437.4,2013.7 443.0,2016.1 446.2,2028.2 452.6,2028.2 457.4,2031.4 460.6,2029.8 463.8,2017.7 475.0,2018.6 478.2,2020.2 482.3,2029.8 485.5,2022.6 491.1,2022.6 496.7,2018.6 503.9,2005.7 511.9,2005.4 519.1,2003.3 522.3,2008.9 530.3,2008.9 536.8,2003.3 540.0,2002.5 542.4,1996.9 544.8,2000.1 553.6,2000.1 558.4,2003.3 563.2,2000.1 570.4,2000.1 576.8,2007.0 584.0,1999.3 588.9,1999.3 596.1,1992.9 601.7,1995.3 609.8,1996.1 614.6,2004.9 618.6,2003.3 621.0,1996.9 633.9,1996.9 637.1,2001.7 640.3,1996.1 649.1,1996.1 654.7,1998.5 657.9,1996.1 661.9,2000.1 669.1,2000.1 673.1,1976.1 683.6,1992.1 694.0,1991.3 700.4,1992.1 702.0,1988.1 709.2,1987.3 715.6,1985.7 718.8,1984.9 722.0,1989.7 728.4,1990.5 734.0,1993.7 736.5,2000.1 739.7,1999.3 741.3,1994.5 747.7,1994.5 752.5,2002.5 758.9,2008.9 761.3,2012.1 771.7,2012.9 774.1,2017.7 779.7,2005.7 786.1,2005.7 791.8,2010.5 797.4,2006.5 799.8,2000.1 806.2,2000.1 813.4,2001.7 824.6,2001.7 830.2,2008.9 835.8,2008.9 842.3,2004.9 847.1,2005.7 851.9,2011.3 855.1,2010.5 858.3,2003.3 865.4,2004.3 874.6,1988.1 878.5,1973.9 884.7,1973.9 890.1,1991.2 892.4,1973.4 900.1,1977.3 904.7,1977.3 910.1,1981.1 913.2,1980.1 915.5,1969.6 919.3,1975.4 924.0,1975.7 929.4,1988.1 932.4,1988.1 935.5,1993.5 938.6,1992.7 944.0,1992.7 949.4,1999.6 952.5,2001.9 957.9,2026.6 963.3,2026.6 969.4,2032.8 974.1,2005.0 983.3,2005.8 988.7,2020.4 993.3,2012.7 998.7,2015.0 1003.3,2015.0 1008.0,1901.8 1010.3,1938.8 1016.4,1876.3 1022.6,1876.3 1028.0,1912.6 1033.4,1883.3 1036.5,1887.9 1041.9,1887.9 1047.3,1881.7 1050.4,1867.9 1052.7,1806.2 1055.7,1812.4 1061.9,1812.4 1070.4,1861.7 1072.7,1829.3 1076.6,1844.7 1081.2,1844.7 1089.7,1901.8 1092.7,1893.3" fill="none" stroke="#00238c" stroke-width="4.2" stroke-linejoin="miter" stroke-miterlimit="10"/>
<polyline points="100.6,2035.9 105.4,2029.8 109.4,2031.7 119.8,2031.7 125.5,2037.0 131.1,2041.0 136.7,2041.0 142.3,2054.6 146.3,2049.8 148.7,2049.8 155.1,2033.8 157.5,2033.8 165.5,2016.9 167.9,2015.3 171.1,2019.4 176.8,2019.4 181.6,2005.7 184.0,2008.9 188.0,2007.3 191.2,2009.7 196.0,2009.7 204.0,1997.4 209.6,2005.7 215.2,2005.7 221.6,1999.3 224.8,2001.7 228.1,2013.7 230.5,2015.3 236.1,2015.3 241.7,2000.9 243.3,2003.3 246.5,1998.5 255.3,1998.5 260.1,2004.1 262.5,1996.9 266.5,1992.1 268.9,1983.6 276.1,1984.1 281.0,1985.7 283.4,1993.7 285.8,1989.7 289.0,1991.0 294.6,1991.0 300.2,2008.9 305.0,2013.7 308.2,2008.9 314.6,2009.3 318.6,2011.3 325.0,2005.4 333.9,2005.7 340.3,2008.6 345.1,2004.1 348.3,2001.7 350.0,2001.7 354.8,2001.7 361.2,2002.5 366.8,2012.9 372.4,2013.7 378.9,2017.7 386.1,2010.5 392.5,2010.5 398.1,1997.7 401.3,1995.3 406.1,2003.3 411.7,2003.3 418.1,2000.6 422.1,2004.9 432.6,2005.7 437.4,2008.1 443.0,2008.9 446.2,2018.9 452.6,2018.6 460.6,2019.4 463.0,2007.3 471.8,2007.3 478.2,2008.9 482.3,2016.1 485.5,2012.9 491.1,2012.9 496.7,2008.1 502.3,2000.1 506.3,1997.7 511.1,1996.9 519.1,1992.9 522.3,1999.3 530.3,1997.7 536.0,1994.5 541.6,1988.9 544.8,1992.9 552.8,1993.7 557.6,1996.9 563.2,1993.7 569.6,1993.7 576.8,2000.1 582.4,1993.7 588.9,1993.7 595.3,1988.1 601.7,1989.4 609.0,1991.0 614.6,2000.9 620.2,1991.0 633.9,1991.0 637.1,1994.5 640.3,1991.3 649.9,1992.1 654.7,1995.3 657.9,1992.9 661.1,1997.7 669.1,1997.7 673.1,1979.3 681.9,1997.7 698.0,1996.9 701.2,1994.5 707.6,1993.7 714.0,1988.9 716.4,1992.1 718.8,1985.7 722.0,1991.3 728.4,1991.3 733.2,1995.3 735.7,2000.1 738.9,1999.3 741.3,1993.7 747.7,1993.7 752.5,2003.3 755.7,2004.9 760.5,2012.1 770.1,2012.9 774.1,2020.2 779.7,2007.3 786.1,2007.3 791.8,2012.9 797.4,2008.9 799.8,2001.7 824.6,2001.7 830.2,2010.5 836.6,2010.5 843.1,2005.7 846.3,2005.7 851.1,2012.1 854.3,2008.9 858.3,2000.9 865.4,2001.9 874.6,1989.6 878.5,1980.4 884.7,1980.4 890.1,1991.9 892.4,1973.4 898.5,1978.8 904.7,1979.6 910.1,1985.0 913.2,1983.5 915.5,1974.2 917.8,1980.4 923.2,1980.4 929.4,1991.2 932.4,1993.5 934.8,2001.9 938.6,1995.8 944.0,1995.8 949.4,2003.5 952.5,2005.8 957.1,2033.5 962.5,2033.5 969.4,2038.2 974.1,2009.7 983.3,2009.7 988.7,2026.6 993.3,2018.9 997.9,2020.4 1003.3,2020.4 1008.0,1954.2 1010.3,1995.8 1016.4,1915.6 1021.8,1915.6 1028.0,1940.3 1033.4,1920.3 1036.5,1928.7 1041.9,1928.7 1047.3,1921.0 1050.4,1903.3 1053.4,1855.5 1055.7,1858.6 1061.9,1858.6 1066.5,1875.6 1070.4,1904.8 1072.7,1874.0 1076.6,1881.7 1081.9,1881.7 1086.6,1897.1 1089.7,1928.0 1093.5,1921.8" fill="none" stroke="#000000" stroke-width="4.2" stroke-linejoin="miter" stroke-miterlimit="10"/>
<rect x="382.50" y="2326.50" width="44.00" height="3.40" fill="#c0000f"/>
<text x="447.30" y="2339.40" font-size="33.8" font-weight="normal" text-anchor="start" fill="#c0000f" >Q + 1</text>
<rect x="630.70" y="2326.50" width="44.00" height="3.40" fill="#00238c"/>
<text x="695.50" y="2339.40" font-size="33.8" font-weight="normal" text-anchor="start" fill="#00238c" >Q + 2</text>
<rect x="878.90" y="2326.50" width="44.00" height="3.40" fill="#000000"/>
<text x="943.70" y="2339.40" font-size="33.8" font-weight="normal" text-anchor="start" fill="#000000" >Q + 3</text>
<text x="1178.60" y="1682.70" font-size="38.3" font-weight="bold">Frontquartale Peak in Euro/MWh</text>
<text x="1783.70" y="1682.70" font-size="38" letter-spacing="-2.6">(EEX)</text>
<line x1="1236" y1="1710.00" x2="2250" y2="1710.00" stroke="#7d7d7d" stroke-width="1.8"/>
<g transform="translate(1229.00,1721.20) scale(0.88,1)"><text x="0" y="0" font-size="31" font-weight="bold" text-anchor="end" fill="#7f7f7f">180</text></g>
<line x1="1236" y1="1844.85" x2="2250" y2="1844.85" stroke="#7d7d7d" stroke-width="1.8"/>
<g transform="translate(1229.00,1856.05) scale(0.88,1)"><text x="0" y="0" font-size="31" font-weight="bold" text-anchor="end" fill="#7f7f7f">150</text></g>
<line x1="1236" y1="1979.70" x2="2250" y2="1979.70" stroke="#7d7d7d" stroke-width="1.8"/>
<g transform="translate(1229.00,1990.90) scale(0.88,1)"><text x="0" y="0" font-size="31" font-weight="bold" text-anchor="end" fill="#7f7f7f">120</text></g>
<line x1="1236" y1="2114.55" x2="2250" y2="2114.55" stroke="#7d7d7d" stroke-width="1.8"/>
<g transform="translate(1229.00,2125.75) scale(0.88,1)"><text x="0" y="0" font-size="31" font-weight="bold" text-anchor="end" fill="#7f7f7f">90</text></g>
<line x1="1236" y1="2249.40" x2="2250" y2="2249.40" stroke="#7d7d7d" stroke-width="1.8"/>
<g transform="translate(1229.00,2260.60) scale(0.88,1)"><text x="0" y="0" font-size="31" font-weight="bold" text-anchor="end" fill="#7f7f7f">60</text></g>
<line x1="1253.20" y1="1710.00" x2="1253.20" y2="2259.90" stroke="#7d7d7d" stroke-width="1.8"/>
<line x1="1279.20" y1="1710.00" x2="1279.20" y2="2259.90" stroke="#7d7d7d" stroke-width="1.8"/>
<line x1="1368.30" y1="1710.00" x2="1368.30" y2="2259.90" stroke="#7d7d7d" stroke-width="1.8"/>
<line x1="1454.50" y1="1710.00" x2="1454.50" y2="2259.90" stroke="#7d7d7d" stroke-width="1.8"/>
<line x1="1543.70" y1="1710.00" x2="1543.70" y2="2259.90" stroke="#7d7d7d" stroke-width="1.8"/>
<line x1="1635.70" y1="1710.00" x2="1635.70" y2="2259.90" stroke="#7d7d7d" stroke-width="1.8"/>
<line x1="1719.40" y1="1710.00" x2="1719.40" y2="2259.90" stroke="#7d7d7d" stroke-width="1.8"/>
<line x1="1808.80" y1="1710.00" x2="1808.80" y2="2259.90" stroke="#7d7d7d" stroke-width="1.8"/>
<line x1="1897.70" y1="1710.00" x2="1897.70" y2="2259.90" stroke="#7d7d7d" stroke-width="1.8"/>
<line x1="1984.00" y1="1710.00" x2="1984.00" y2="2259.90" stroke="#7d7d7d" stroke-width="1.8"/>
<line x1="2073.20" y1="1710.00" x2="2073.20" y2="2259.90" stroke="#7d7d7d" stroke-width="1.8"/>
<line x1="2153.60" y1="1710.00" x2="2153.60" y2="2259.90" stroke="#7d7d7d" stroke-width="1.8"/>
<line x1="2242.80" y1="1710.00" x2="2242.80" y2="2259.90" stroke="#7d7d7d" stroke-width="1.8"/>
<g transform="translate(1279.20,2291.70) scale(0.83,1)"><text x="0" y="0" font-size="31" font-weight="bold" text-anchor="middle" fill="#7f7f7f">Mai</text></g>
<g transform="translate(1368.30,2291.70) scale(0.83,1)"><text x="0" y="0" font-size="31" font-weight="bold" text-anchor="middle" fill="#7f7f7f">Jun</text></g>
<g transform="translate(1454.50,2291.70) scale(0.83,1)"><text x="0" y="0" font-size="31" font-weight="bold" text-anchor="middle" fill="#7f7f7f">Jul</text></g>
<g transform="translate(1543.70,2289.10) scale(0.83,1)"><text x="0" y="0" font-size="31" font-weight="bold" text-anchor="middle" fill="#7f7f7f">Aug</text></g>
<g transform="translate(1635.70,2289.10) scale(0.83,1)"><text x="0" y="0" font-size="31" font-weight="bold" text-anchor="middle" fill="#7f7f7f">Sep</text></g>
<g transform="translate(1719.40,2291.70) scale(0.83,1)"><text x="0" y="0" font-size="31" font-weight="bold" text-anchor="middle" fill="#7f7f7f">Okt</text></g>
<g transform="translate(1808.80,2291.70) scale(0.83,1)"><text x="0" y="0" font-size="31" font-weight="bold" text-anchor="middle" fill="#7f7f7f">Nov</text></g>
<g transform="translate(1897.70,2291.70) scale(0.83,1)"><text x="0" y="0" font-size="31" font-weight="bold" text-anchor="middle" fill="#7f7f7f">Dez</text></g>
<g transform="translate(1984.00,2291.70) scale(0.83,1)"><text x="0" y="0" font-size="31" font-weight="bold" text-anchor="middle" fill="#7f7f7f">Jan</text></g>
<g transform="translate(2073.20,2291.70) scale(0.83,1)"><text x="0" y="0" font-size="31" font-weight="bold" text-anchor="middle" fill="#7f7f7f">Feb</text></g>
<g transform="translate(2153.60,2291.70) scale(0.83,1)"><text x="0" y="0" font-size="31" font-weight="bold" text-anchor="middle" fill="#7f7f7f">Mrz</text></g>
<g transform="translate(2243.00,2289.10) scale(0.83,1)"><text x="0" y="0" font-size="31" font-weight="bold" text-anchor="end" fill="#7f7f7f">Apr</text></g>
<polyline points="1252.8,2206.7 1258.4,2197.9 1262.4,2200.3 1268.0,2200.3 1273.6,2208.3 1276.1,2199.5 1279.3,2199.5 1284.9,2183.4 1288.1,2183.4 1293.7,2178.6 1296.1,2170.6 1299.3,2168.2 1302.5,2173.0 1308.6,2173.0 1313.7,2151.4 1316.9,2165.0 1320.1,2161.0 1328.2,2161.8 1333.8,2155.4 1337.0,2167.4 1340.2,2163.9 1344.2,2165.8 1348.2,2165.8 1353.8,2162.3 1357.0,2163.4 1360.2,2177.0 1362.6,2182.2 1368.2,2182.2 1374.6,2175.4 1377.0,2179.4 1380.3,2176.2 1387.5,2176.2 1394.7,2181.0 1396.3,2171.4 1399.5,2168.2 1402.7,2156.2 1411.5,2156.2 1417.1,2155.4 1422.7,2165.0 1428.3,2165.0 1440.4,2194.7 1442.8,2188.2 1451.6,2188.2 1457.2,2186.6 1462.8,2189.0 1470.8,2189.0 1477.2,2187.4 1481.2,2185.0 1488.5,2185.0 1495.7,2186.6 1499.7,2183.1 1503.7,2186.6 1508.0,2186.6 1508.7,2185.8 1515.3,2189.9 1521.9,2185.4 1529.3,2184.8 1535.0,2176.4 1541.5,2174.5 1544.3,2179.2 1549.9,2179.2 1559.3,2184.8 1564.9,2186.7 1575.2,2187.3 1578.0,2183.0 1583.7,2196.6 1590.2,2196.6 1598.6,2189.5 1601.4,2181.1 1609.9,2181.1 1616.4,2179.2 1622.0,2186.1 1630.5,2187.3 1636.1,2183.9 1641.7,2178.7 1649.2,2177.9 1658.6,2176.8 1661.4,2181.6 1669.8,2182.0 1677.3,2180.1 1682.0,2176.4 1685.7,2178.7 1692.3,2179.2 1699.8,2183.9 1705.4,2180.1 1711.0,2180.1 1716.6,2185.8 1724.1,2178.7 1731.6,2178.3 1739.1,2175.5 1743.8,2177.3 1751.3,2177.3 1756.9,2183.0 1762.5,2178.3 1764.9,2178.3 1771.2,2178.3 1776.9,2179.8 1779.7,2182.0 1783.4,2179.2 1790.9,2179.2 1797.5,2180.5 1806.8,2182.0 1811.5,2182.4 1816.2,2168.9 1825.5,2176.8 1832.1,2176.8 1837.7,2173.6 1840.5,2176.0 1846.1,2174.2 1851.8,2173.6 1857.4,2169.9 1861.1,2171.7 1863.9,2170.4 1866.7,2180.5 1878.0,2179.2 1881.7,2182.0 1885.5,2180.1 1892.0,2180.1 1897.6,2188.6 1906.1,2196.1 1912.6,2196.6 1918.2,2198.5 1921.0,2200.7 1926.7,2193.3 1932.3,2193.3 1937.9,2195.1 1942.6,2192.3 1948.2,2190.4 1954.8,2189.9 1958.5,2188.6 1971.6,2188.6 1979.1,2197.9 1984.7,2197.9 1990.3,2190.4 1993.1,2191.4 1998.8,2196.1 2001.6,2193.3 2004.4,2194.2 2007.2,2190.4 2012.8,2190.4 2019.9,2179.2 2024.2,2177.6 2027.3,2165.3 2033.4,2165.3 2038.5,2179.7 2041.2,2164.3 2045.7,2168.4 2052.9,2168.4 2059.0,2177.6 2065.2,2167.4 2068.2,2173.1 2073.3,2173.1 2078.5,2185.8 2081.5,2185.8 2084.6,2194.0 2088.7,2187.8 2093.8,2187.8 2098.9,2191.9 2103.0,2194.0 2106.1,2205.2 2113.3,2206.3 2119.4,2212.4 2124.5,2195.0 2127.6,2198.1 2133.7,2198.1 2138.8,2207.3 2141.9,2200.1 2148.1,2204.2 2154.2,2204.2 2159.3,2108.0 2162.0,2148.9 2167.5,2098.8 2173.6,2098.8 2179.8,2122.3 2182.9,2112.1 2188.0,2106.0 2195.1,2106.0 2200.3,2103.9 2203.3,2095.7 2205.4,2080.4 2213.6,2080.4 2219.7,2099.8 2223.4,2112.1 2225.8,2091.6 2228.9,2103.9 2234.0,2103.9 2240.2,2120.3 2242.6,2131.5 2246.3,2127.5" fill="none" stroke="#c0000f" stroke-width="4.2" stroke-linejoin="miter" stroke-miterlimit="10"/>
<polyline points="1253.6,1983.5 1256.4,1980.7 1260.2,1989.1 1263.0,1991.0 1267.7,1991.0 1274.2,1996.6 1278.0,1996.6 1285.5,1986.3 1288.3,1986.3 1292.0,1979.8 1296.7,1970.4 1299.5,1972.3 1303.2,1977.0 1307.9,1977.0 1313.5,1963.9 1316.4,1972.3 1319.2,1962.9 1327.6,1963.9 1334.1,1965.7 1337.9,1967.6 1339.8,1964.8 1343.5,1967.6 1352.9,1966.7 1356.6,1968.2 1360.4,1968.2 1363.2,1979.8 1368.8,1979.8 1373.5,1969.5 1377.2,1975.1 1381.0,1966.7 1388.4,1965.7 1391.3,1965.7 1395.0,1975.1 1396.9,1965.7 1400.6,1963.9 1402.5,1954.5 1409.0,1954.5 1414.7,1949.8 1417.5,1951.7 1419.3,1947.9 1423.1,1951.7 1428.7,1951.7 1437.1,1964.8 1440.9,1969.5 1443.7,1963.9 1448.4,1963.9 1454.9,1967.6 1457.7,1965.7 1465.2,1967.6 1474.6,1967.6 1477.4,1971.3 1480.2,1968.5 1484.0,1969.5 1497.1,1968.5 1500.8,1972.3 1503.6,1974.2 1507.9,1974.2 1508.7,1974.2 1518.1,1977.0 1523.7,1968.5 1529.3,1968.5 1535.0,1963.9 1538.3,1956.4 1543.4,1966.7 1550.9,1966.7 1555.6,1965.7 1559.3,1970.4 1568.7,1970.4 1575.2,1975.1 1579.0,1975.1 1584.6,1982.6 1589.3,1982.6 1595.8,1991.0 1604.3,1974.2 1609.9,1974.2 1617.4,1977.0 1621.1,1982.6 1630.5,1982.6 1637.0,1976.0 1641.7,1968.5 1650.1,1967.6 1655.7,1962.0 1661.4,1970.4 1669.8,1968.5 1677.3,1962.0 1680.1,1965.7 1682.0,1957.3 1690.4,1958.2 1699.8,1962.0 1705.4,1960.1 1711.0,1960.1 1716.6,1965.7 1720.4,1962.0 1729.7,1962.0 1736.3,1953.6 1744.7,1959.2 1750.3,1960.1 1755.9,1970.4 1760.6,1963.9 1764.9,1962.9 1771.2,1962.9 1776.9,1961.0 1779.7,1965.7 1782.5,1961.0 1790.9,1961.4 1796.5,1965.2 1802.1,1962.0 1806.8,1964.8 1811.5,1964.8 1816.2,1949.8 1824.6,1962.5 1832.1,1962.5 1839.6,1958.8 1842.4,1962.0 1846.1,1959.6 1851.8,1959.2 1857.4,1956.9 1860.2,1957.3 1863.0,1952.6 1872.4,1954.5 1877.0,1956.4 1881.7,1962.9 1885.5,1959.2 1892.0,1959.2 1899.5,1969.5 1906.1,1981.3 1912.6,1982.0 1917.3,1984.5 1921.0,1989.1 1925.7,1977.9 1932.3,1977.9 1937.9,1981.6 1940.7,1977.9 1945.4,1977.0 1952.9,1977.0 1958.5,1984.5 1971.6,1984.5 1979.1,1994.8 1984.7,1994.8 1991.3,1988.2 1993.1,1988.8 1998.8,2000.4 2001.6,1996.6 2004.4,2002.2 2007.2,1995.7 2012.8,1995.7 2019.9,1984.5 2026.3,1966.8 2033.4,1966.8 2039.6,1983.1 2041.2,1964.7 2044.7,1968.8 2051.8,1968.8 2059.0,1974.9 2065.2,1964.7 2068.2,1970.8 2073.3,1970.8 2079.5,1981.1 2081.5,1981.1 2085.6,1989.3 2092.8,1989.3 2102.0,2000.5 2108.1,2015.9 2113.3,2015.9 2119.4,2022.0 2124.5,1999.5 2128.6,2004.6 2133.7,2004.6 2138.8,2015.9 2141.9,2005.6 2148.1,2009.7 2153.2,2009.7 2159.3,1905.3 2162.4,1952.4 2167.5,1876.7 2173.6,1876.7 2179.8,1897.2 2181.8,1866.4 2184.9,1862.4 2189.0,1866.9 2194.1,1866.9 2200.3,1860.3 2203.3,1850.1 2205.4,1793.8 2213.6,1792.8 2219.7,1815.3 2223.4,1833.7 2225.8,1811.2 2228.9,1825.5 2235.1,1825.5 2240.2,1846.0 2243.2,1880.8 2246.3,1870.5" fill="none" stroke="#00238c" stroke-width="4.2" stroke-linejoin="miter" stroke-miterlimit="10"/>
<polyline points="1253.6,2003.2 1259.2,2000.4 1263.9,2002.2 1267.7,2002.2 1273.3,2009.7 1276.1,2005.1 1278.9,2005.1 1285.5,1996.6 1288.3,1996.3 1292.9,1991.4 1297.6,1983.5 1302.3,1986.3 1307.9,1986.3 1313.5,1974.2 1316.4,1986.3 1320.1,1984.5 1322.9,1985.8 1328.5,1985.8 1336.0,1987.3 1339.8,1983.5 1349.1,1983.5 1352.9,1980.7 1356.6,1975.1 1361.9,1994.8 1367.9,1994.8 1373.5,1984.5 1380.0,1978.8 1390.3,1978.8 1394.1,1985.8 1398.7,1975.1 1400.6,1971.3 1402.5,1957.3 1409.0,1956.9 1414.7,1954.5 1419.3,1954.5 1423.1,1959.6 1428.7,1959.6 1435.3,1972.3 1439.9,1984.5 1446.5,1985.4 1454.0,1985.4 1460.5,1978.8 1468.0,1981.6 1470.8,1981.6 1475.5,1986.3 1478.3,1986.3 1484.0,1983.5 1489.6,1983.5 1495.2,1991.9 1498.0,1990.6 1503.6,1996.6 1507.9,1996.6 1508.7,1996.6 1515.3,2001.3 1522.8,1996.3 1529.3,1996.3 1536.8,1984.5 1544.3,1987.6 1554.6,1986.3 1558.4,1994.8 1568.7,1995.7 1576.2,2004.1 1580.8,2001.9 1583.7,2009.7 1598.6,2010.7 1602.4,1997.6 1609.9,1997.6 1616.4,1999.4 1622.0,2006.0 1625.8,2002.6 1632.3,2001.9 1643.6,1995.7 1650.1,1995.7 1655.7,1986.9 1662.3,1992.9 1669.8,1992.5 1677.3,1990.1 1682.9,1987.6 1690.4,1987.6 1696.0,1985.4 1701.6,1986.7 1706.3,1985.8 1711.0,1986.3 1717.5,1991.0 1723.2,1987.6 1730.7,1987.3 1736.3,1977.0 1742.8,1983.1 1750.3,1983.5 1755.9,1991.9 1760.6,1985.4 1764.9,1986.3 1771.2,1986.3 1776.9,1985.4 1779.7,1986.3 1783.4,1983.9 1790.9,1983.9 1797.5,1981.6 1800.3,1983.9 1804.0,1983.9 1806.8,1990.6 1811.5,1990.6 1816.2,1972.3 1820.9,1970.8 1822.7,1985.4 1825.5,1980.7 1832.1,1980.7 1837.7,1992.9 1840.5,1987.6 1843.3,1993.8 1846.1,1987.6 1851.8,1987.3 1857.4,1983.9 1861.1,1988.2 1863.9,1981.6 1866.7,1988.2 1872.4,1988.8 1878.0,1990.6 1881.7,1998.1 1887.3,1995.1 1892.0,1995.1 1897.6,2004.1 1906.1,2011.6 1912.6,2012.0 1918.2,2013.5 1921.0,2019.1 1926.7,2005.1 1932.3,2005.1 1938.8,2008.8 1941.6,2004.5 1945.4,2005.1 1948.2,1999.4 1952.9,1999.4 1958.5,1996.3 1971.6,1996.3 1979.1,2000.4 1984.7,2000.4 1993.1,1997.6 1997.8,2008.8 2001.6,2006.9 2004.4,2015.4 2008.1,2010.7 2012.8,2010.7 2019.9,1997.6 2024.2,1993.4 2027.3,1982.1 2033.4,1982.1 2039.6,1998.5 2041.6,1985.2 2045.7,1988.2 2048.8,1992.3 2055.9,1993.4 2062.1,1997.5 2065.2,1982.1 2068.2,1993.4 2073.3,1993.4 2079.5,2004.6 2082.6,2003.6 2085.6,2008.7 2089.7,2004.6 2093.8,2004.6 2098.9,2010.8 2103.0,2012.8 2107.1,2038.4 2113.3,2038.4 2119.4,2044.5 2122.5,2029.2 2126.6,2023.1 2133.7,2023.1 2139.9,2038.4 2145.0,2027.1 2148.1,2034.3 2154.2,2034.3 2159.3,1974.9 2162.4,1993.4 2166.5,1964.7 2169.6,1928.9 2174.7,1928.9 2179.8,1925.8 2184.9,1904.3 2189.0,1906.4 2195.1,1906.4 2200.3,1909.4 2203.3,1899.2 2205.4,1855.8 2214.6,1855.8 2219.7,1876.7 2223.4,1903.3 2225.8,1874.6 2228.9,1887.9 2234.0,1887.9 2240.2,1897.2 2242.6,1927.9 2246.3,1915.6" fill="none" stroke="#000000" stroke-width="4.2" stroke-linejoin="miter" stroke-miterlimit="10"/>
<rect x="1535.50" y="2326.50" width="44.00" height="3.40" fill="#c0000f"/>
<text x="1600.30" y="2339.40" font-size="33.8" font-weight="normal" text-anchor="start" fill="#c0000f" >Q + 1</text>
<rect x="1783.70" y="2326.50" width="44.00" height="3.40" fill="#00238c"/>
<text x="1848.50" y="2339.40" font-size="33.8" font-weight="normal" text-anchor="start" fill="#00238c" >Q + 2</text>
<rect x="2031.90" y="2326.50" width="44.00" height="3.40" fill="#000000"/>
<text x="2096.70" y="2339.40" font-size="33.8" font-weight="normal" text-anchor="start" fill="#000000" >Q + 3</text>
<text x="25.60" y="2499.70" font-size="38.3" font-weight="bold">Frontjahre Base in Euro/MWh</text>
<text x="576.30" y="2499.70" font-size="38" letter-spacing="-2.6">(EEX)</text>
<line x1="83" y1="2527.00" x2="1097" y2="2527.00" stroke="#7d7d7d" stroke-width="1.8"/>
<g transform="translate(76.00,2538.20) scale(0.88,1)"><text x="0" y="0" font-size="31" font-weight="bold" text-anchor="end" fill="#7f7f7f">120</text></g>
<line x1="83" y1="2661.80" x2="1097" y2="2661.80" stroke="#7d7d7d" stroke-width="1.8"/>
<g transform="translate(76.00,2673.00) scale(0.88,1)"><text x="0" y="0" font-size="31" font-weight="bold" text-anchor="end" fill="#7f7f7f">105</text></g>
<line x1="83" y1="2796.60" x2="1097" y2="2796.60" stroke="#7d7d7d" stroke-width="1.8"/>
<g transform="translate(76.00,2807.80) scale(0.88,1)"><text x="0" y="0" font-size="31" font-weight="bold" text-anchor="end" fill="#7f7f7f">90</text></g>
<line x1="83" y1="2931.40" x2="1097" y2="2931.40" stroke="#7d7d7d" stroke-width="1.8"/>
<g transform="translate(76.00,2942.60) scale(0.88,1)"><text x="0" y="0" font-size="31" font-weight="bold" text-anchor="end" fill="#7f7f7f">75</text></g>
<line x1="83" y1="3066.20" x2="1097" y2="3066.20" stroke="#7d7d7d" stroke-width="1.8"/>
<g transform="translate(76.00,3077.40) scale(0.88,1)"><text x="0" y="0" font-size="31" font-weight="bold" text-anchor="end" fill="#7f7f7f">60</text></g>
<line x1="100.00" y1="2527.00" x2="100.00" y2="3076.70" stroke="#7d7d7d" stroke-width="1.8"/>
<line x1="147.60" y1="2527.00" x2="147.60" y2="3076.70" stroke="#7d7d7d" stroke-width="1.8"/>
<line x1="235.20" y1="2527.00" x2="235.20" y2="3076.70" stroke="#7d7d7d" stroke-width="1.8"/>
<line x1="319.20" y1="2527.00" x2="319.20" y2="3076.70" stroke="#7d7d7d" stroke-width="1.8"/>
<line x1="406.70" y1="2527.00" x2="406.70" y2="3076.70" stroke="#7d7d7d" stroke-width="1.8"/>
<line x1="496.50" y1="2527.00" x2="496.50" y2="3076.70" stroke="#7d7d7d" stroke-width="1.8"/>
<line x1="577.90" y1="2527.00" x2="577.90" y2="3076.70" stroke="#7d7d7d" stroke-width="1.8"/>
<line x1="665.30" y1="2527.00" x2="665.30" y2="3076.70" stroke="#7d7d7d" stroke-width="1.8"/>
<line x1="752.20" y1="2527.00" x2="752.20" y2="3076.70" stroke="#7d7d7d" stroke-width="1.8"/>
<line x1="836.90" y1="2527.00" x2="836.90" y2="3076.70" stroke="#7d7d7d" stroke-width="1.8"/>
<line x1="923.80" y1="2527.00" x2="923.80" y2="3076.70" stroke="#7d7d7d" stroke-width="1.8"/>
<line x1="1002.90" y1="2527.00" x2="1002.90" y2="3076.70" stroke="#7d7d7d" stroke-width="1.8"/>
<line x1="1089.70" y1="2527.00" x2="1089.70" y2="3076.70" stroke="#7d7d7d" stroke-width="1.8"/>
<g transform="translate(147.60,3108.50) scale(0.83,1)"><text x="0" y="0" font-size="31" font-weight="bold" text-anchor="middle" fill="#7f7f7f">Mai</text></g>
<g transform="translate(235.20,3108.50) scale(0.83,1)"><text x="0" y="0" font-size="31" font-weight="bold" text-anchor="middle" fill="#7f7f7f">Jun</text></g>
<g transform="translate(319.20,3108.50) scale(0.83,1)"><text x="0" y="0" font-size="31" font-weight="bold" text-anchor="middle" fill="#7f7f7f">Jul</text></g>
<g transform="translate(406.70,3105.90) scale(0.83,1)"><text x="0" y="0" font-size="31" font-weight="bold" text-anchor="middle" fill="#7f7f7f">Aug</text></g>
<g transform="translate(496.50,3105.90) scale(0.83,1)"><text x="0" y="0" font-size="31" font-weight="bold" text-anchor="middle" fill="#7f7f7f">Sep</text></g>
<g transform="translate(577.90,3108.50) scale(0.83,1)"><text x="0" y="0" font-size="31" font-weight="bold" text-anchor="middle" fill="#7f7f7f">Okt</text></g>
<g transform="translate(665.30,3108.50) scale(0.83,1)"><text x="0" y="0" font-size="31" font-weight="bold" text-anchor="middle" fill="#7f7f7f">Nov</text></g>
<g transform="translate(752.20,3108.50) scale(0.83,1)"><text x="0" y="0" font-size="31" font-weight="bold" text-anchor="middle" fill="#7f7f7f">Dez</text></g>
<g transform="translate(836.90,3108.50) scale(0.83,1)"><text x="0" y="0" font-size="31" font-weight="bold" text-anchor="middle" fill="#7f7f7f">Jan</text></g>
<g transform="translate(923.80,3108.50) scale(0.83,1)"><text x="0" y="0" font-size="31" font-weight="bold" text-anchor="middle" fill="#7f7f7f">Feb</text></g>
<g transform="translate(1002.90,3108.50) scale(0.83,1)"><text x="0" y="0" font-size="31" font-weight="bold" text-anchor="middle" fill="#7f7f7f">Mrz</text></g>
<g transform="translate(1090.00,3105.90) scale(0.83,1)"><text x="0" y="0" font-size="31" font-weight="bold" text-anchor="end" fill="#7f7f7f">Apr</text></g>
<polyline points="99.8,2925.1 104.6,2911.5 119.0,2911.5 124.7,2921.1 127.9,2922.7 131.1,2927.5 136.7,2927.5 142.6,2935.5 144.7,2923.5 147.9,2923.5 153.5,2906.7 156.7,2905.9 162.3,2897.1 165.5,2889.0 167.9,2887.4 171.1,2893.9 176.8,2893.9 181.6,2877.0 184.0,2884.2 187.2,2883.4 190.4,2887.9 195.2,2887.9 200.8,2885.0 204.8,2881.0 208.8,2886.6 219.2,2886.6 224.0,2884.2 226.5,2901.1 229.7,2906.7 235.3,2906.7 240.1,2893.1 243.3,2892.7 246.5,2885.0 255.3,2886.6 260.1,2894.7 264.1,2875.4 268.1,2858.1 274.5,2858.1 281.0,2861.3 285.8,2856.2 288.2,2864.2 293.8,2864.2 300.2,2878.6 305.0,2893.9 308.2,2889.8 316.2,2889.8 320.2,2888.2 325.0,2881.0 333.9,2882.6 341.1,2889.0 348.3,2883.4 355.0,2883.4 358.0,2885.0 361.2,2882.6 364.4,2885.8 367.6,2891.1 372.4,2891.1 378.9,2894.3 382.1,2892.3 386.9,2886.6 392.5,2886.3 397.3,2865.8 401.0,2861.8 404.5,2866.6 406.9,2875.1 412.5,2874.6 418.1,2873.0 420.5,2879.9 426.9,2875.7 431.8,2875.7 438.2,2879.9 441.4,2879.4 444.6,2887.4 446.2,2892.3 452.6,2891.8 460.6,2889.8 463.0,2875.4 470.2,2874.6 476.6,2876.7 479.8,2882.2 483.1,2888.2 485.5,2880.2 491.1,2880.2 495.9,2875.1 500.7,2868.2 505.5,2864.5 510.3,2864.2 518.3,2859.4 521.5,2867.1 530.3,2866.6 536.0,2858.6 538.4,2856.5 541.6,2851.4 544.0,2853.8 550.4,2853.8 555.2,2855.4 558.4,2860.2 564.0,2854.6 569.6,2854.6 576.0,2858.6 579.2,2854.6 583.2,2841.8 588.9,2841.8 594.5,2834.5 598.5,2836.9 606.5,2837.3 610.0,2841.8 614.6,2850.6 617.8,2849.0 620.2,2839.4 624.2,2841.0 632.3,2841.8 637.1,2845.0 639.5,2841.0 642.7,2843.7 648.3,2843.7 653.9,2849.0 656.3,2845.0 662.7,2850.1 669.1,2850.1 673.1,2820.1 677.1,2824.9 681.9,2835.3 693.2,2835.3 696.4,2834.1 698.8,2836.1 701.2,2830.5 707.6,2830.5 713.2,2823.3 716.4,2826.5 718.8,2817.7 721.2,2828.1 726.8,2828.1 734.8,2835.3 738.1,2836.6 741.3,2830.9 746.9,2830.9 751.7,2853.0 754.9,2852.2 758.9,2859.7 766.9,2861.0 772.5,2869.0 774.6,2881.8 780.5,2862.6 786.1,2862.6 792.6,2868.7 798.2,2868.7 800.6,2858.1 805.4,2858.1 811.8,2852.7 825.4,2852.7 831.0,2858.6 836.6,2858.6 842.3,2852.2 845.5,2852.2 851.1,2864.2 854.3,2857.0 856.7,2864.2 859.1,2850.6 865.0,2849.8 869.2,2833.4 875.4,2829.5 878.5,2821.5 884.7,2821.5 890.1,2843.4 891.6,2826.4 896.2,2821.5 899.3,2826.4 904.7,2826.7 910.1,2835.7 913.2,2836.9 915.5,2828.0 918.6,2839.5 923.2,2839.5 928.6,2851.1 932.4,2851.9 934.8,2868.0 938.6,2857.3 944.0,2857.3 949.4,2866.5 952.5,2869.6 957.1,2911.2 962.5,2911.2 969.4,2914.3 974.1,2878.8 977.1,2870.4 983.3,2870.4 987.9,2890.4 991.0,2885.0 994.9,2885.0 997.2,2888.8 1003.3,2888.8 1008.0,2811.0 1011.0,2841.8 1016.4,2775.6 1021.8,2775.6 1028.0,2773.2 1034.2,2781.0 1045.0,2781.0 1048.8,2774.3 1053.4,2721.6 1056.5,2712.4 1062.7,2712.4 1066.5,2724.7 1070.4,2755.5 1072.7,2724.7 1077.3,2733.9 1081.9,2733.9 1086.6,2752.4 1089.7,2781.0 1092.7,2773.2" fill="none" stroke="#c0000f" stroke-width="4.2" stroke-linejoin="miter" stroke-miterlimit="10"/>
<polyline points="99.8,2977.2 105.4,2971.6 109.4,2974.0 119.0,2974.0 124.7,2978.8 131.9,2982.0 136.7,2982.0 142.6,2987.6 144.7,2980.4 147.9,2980.4 153.5,2970.8 156.7,2970.0 163.9,2962.8 167.1,2953.2 170.3,2954.8 181.6,2955.6 184.0,2965.2 189.6,2967.6 197.6,2967.6 204.0,2966.0 210.4,2967.6 220.0,2968.4 224.8,2971.6 227.3,2977.2 234.5,2978.0 240.1,2970.0 243.3,2970.0 247.3,2965.2 255.3,2965.2 260.1,2972.4 264.9,2961.2 268.1,2947.6 274.5,2947.6 281.0,2955.6 285.8,2946.0 288.2,2951.6 293.8,2951.6 300.2,2959.6 306.6,2965.2 314.6,2965.2 320.2,2962.0 325.0,2954.8 333.9,2954.8 338.7,2962.0 344.3,2958.8 348.3,2954.8 355.0,2953.2 358.8,2949.2 362.0,2951.1 367.6,2955.6 372.4,2955.9 378.9,2960.4 382.9,2957.2 386.9,2953.2 392.5,2953.2 397.3,2939.9 401.0,2938.7 406.9,2946.8 412.5,2946.8 418.1,2945.2 421.3,2950.0 426.1,2944.0 431.8,2944.0 439.0,2949.2 443.0,2947.9 446.2,2950.8 452.6,2950.8 459.0,2947.6 462.2,2940.3 467.0,2938.3 476.6,2938.3 483.1,2947.6 485.5,2937.1 491.1,2937.1 499.1,2927.5 505.5,2925.1 511.9,2924.8 518.3,2922.7 522.3,2928.3 530.3,2927.5 538.4,2915.5 541.6,2905.1 544.8,2907.8 550.4,2908.3 558.4,2913.9 564.0,2909.9 569.6,2909.9 576.0,2911.5 579.2,2906.7 583.2,2898.7 588.9,2898.7 595.3,2892.3 603.3,2890.7 610.0,2892.3 614.6,2898.7 617.8,2896.6 620.2,2889.0 633.9,2889.5 637.9,2892.3 640.3,2889.0 647.5,2891.8 653.9,2896.3 661.1,2897.5 669.1,2897.5 673.1,2874.6 677.1,2876.2 682.7,2885.8 689.2,2885.8 696.4,2882.2 702.8,2879.9 707.6,2879.9 714.0,2874.6 716.4,2877.0 718.8,2871.4 722.0,2879.4 728.4,2879.4 734.8,2881.8 738.1,2878.6 741.3,2873.0 746.9,2873.0 752.5,2883.4 757.3,2885.0 761.3,2892.3 767.7,2892.3 772.5,2896.3 774.6,2907.5 779.7,2890.2 786.1,2890.2 793.4,2897.1 796.6,2897.1 799.8,2889.8 811.8,2889.0 825.4,2889.0 831.0,2893.1 836.6,2893.1 842.3,2886.6 845.5,2886.6 851.1,2892.3 854.3,2888.2 856.7,2896.3 859.9,2887.4 865.0,2886.6 870.0,2878.8 875.4,2878.1 879.3,2872.4 885.4,2872.4 890.5,2898.9 892.4,2880.4 896.2,2879.6 904.7,2880.4 910.1,2888.8 915.5,2888.1 918.6,2901.2 924.0,2901.2 930.9,2905.8 933.2,2905.8 935.5,2919.7 938.6,2918.1 944.0,2918.1 952.5,2927.4 957.1,2957.4 962.5,2957.4 969.4,2953.6 972.5,2942.0 977.1,2932.8 983.3,2932.8 988.7,2950.5 994.1,2949.7 997.2,2952.0 1003.3,2952.0 1008.3,2912.7 1011.8,2945.9 1014.1,2945.1 1017.2,2926.6 1023.4,2926.6 1028.0,2925.1 1033.4,2941.3 1041.9,2941.3 1047.3,2943.6 1051.1,2943.6 1055.7,2898.9 1061.9,2898.9 1067.3,2887.3 1070.4,2898.1 1072.7,2888.1 1077.3,2890.4 1081.9,2890.4 1089.7,2907.3 1092.7,2905.8" fill="none" stroke="#00238c" stroke-width="4.2" stroke-linejoin="miter" stroke-miterlimit="10"/>
<polyline points="99.8,2966.8 105.4,2963.6 109.4,2965.2 119.0,2965.2 125.5,2966.8 131.1,2971.6 136.7,2971.6 142.6,2974.0 144.7,2970.8 147.9,2970.0 154.3,2961.7 156.7,2961.2 162.3,2954.0 170.3,2943.6 181.6,2943.6 186.4,2962.3 197.6,2962.3 203.2,2963.6 208.0,2968.4 221.6,2968.4 224.0,2980.4 226.5,2986.0 229.7,2979.6 235.3,2979.6 242.5,2973.2 245.7,2974.0 248.1,2968.4 255.3,2968.4 260.1,2976.4 264.9,2969.2 267.3,2968.4 269.7,2957.2 274.5,2957.2 280.2,2972.4 285.8,2971.6 289.0,2973.2 297.0,2973.2 304.2,2972.4 307.4,2973.2 314.6,2973.2 320.2,2975.6 325.0,2968.4 333.9,2968.4 339.5,2974.0 345.1,2966.8 355.0,2967.6 359.6,2972.4 361.2,2963.6 364.4,2965.2 367.6,2972.4 373.2,2972.4 382.1,2965.5 386.9,2961.2 395.7,2961.2 401.3,2963.9 407.7,2965.5 414.1,2964.9 420.5,2961.7 422.9,2969.2 426.1,2964.4 431.8,2964.4 439.8,2968.4 443.0,2967.1 451.0,2967.1 458.2,2969.2 462.2,2960.7 465.4,2963.3 471.8,2963.3 479.8,2968.7 484.7,2960.7 490.3,2960.7 499.1,2950.8 503.9,2949.2 511.9,2949.2 518.3,2950.8 522.3,2954.8 525.5,2950.4 530.3,2950.4 541.6,2937.9 544.8,2941.9 550.4,2941.9 558.4,2944.0 561.6,2941.5 569.6,2941.9 576.0,2946.8 578.4,2940.3 584.0,2936.0 589.7,2936.0 594.5,2928.3 597.7,2928.3 604.1,2925.1 610.0,2925.1 614.6,2930.7 617.8,2930.7 620.2,2924.3 629.0,2924.3 634.7,2927.5 641.1,2923.2 647.5,2923.2 653.9,2929.6 659.5,2927.0 663.5,2929.6 669.1,2929.6 673.1,2913.1 676.3,2913.1 682.7,2917.9 689.2,2917.4 696.4,2915.5 702.8,2913.9 707.6,2913.6 713.2,2909.9 716.4,2914.7 718.8,2910.4 722.0,2913.6 731.6,2913.6 735.7,2915.8 740.5,2905.9 746.9,2906.2 751.7,2911.5 755.7,2908.3 759.7,2922.2 772.5,2923.2 775.7,2930.7 779.7,2922.2 786.1,2922.2 791.8,2924.8 796.6,2930.7 799.8,2927.0 805.4,2926.7 811.8,2923.8 825.4,2923.8 831.0,2925.1 836.6,2925.1 842.3,2923.2 851.1,2922.7 855.1,2920.6 859.9,2915.2 865.0,2915.2 870.8,2911.2 874.6,2912.0 877.0,2916.6 878.5,2912.7 885.4,2912.7 890.5,2934.3 892.4,2922.0 896.2,2921.2 900.1,2924.3 904.7,2924.3 910.9,2932.8 915.5,2933.5 918.6,2942.0 924.0,2942.0 930.9,2946.6 933.2,2943.6 935.5,2953.6 943.2,2953.6 950.9,2963.6 957.1,2982.1 962.5,2982.1 969.4,2979.8 974.1,2957.4 977.9,2953.6 984.1,2953.6 988.7,2969.8 994.1,2967.5 997.2,2971.3 1003.3,2971.3 1008.3,2940.5 1014.1,2969.8 1017.2,2957.4 1023.4,2957.4 1028.8,2959.7 1033.4,2979.8 1038.8,2978.2 1042.6,2978.2 1048.0,2979.8 1051.9,2975.9 1055.7,2964.4 1061.9,2964.4 1066.5,2951.3 1069.6,2950.5 1075.0,2938.9 1081.9,2938.9 1089.7,2945.1 1092.7,2944.3" fill="none" stroke="#000000" stroke-width="4.2" stroke-linejoin="miter" stroke-miterlimit="10"/>
<rect x="382.50" y="3143.30" width="44.00" height="3.40" fill="#c0000f"/>
<text x="447.30" y="3156.20" font-size="33.8" font-weight="normal" text-anchor="start" fill="#c0000f" >Y + 1</text>
<rect x="630.70" y="3143.30" width="44.00" height="3.40" fill="#00238c"/>
<text x="695.50" y="3156.20" font-size="33.8" font-weight="normal" text-anchor="start" fill="#00238c" >Y + 2</text>
<rect x="878.90" y="3143.30" width="44.00" height="3.40" fill="#000000"/>
<text x="943.70" y="3156.20" font-size="33.8" font-weight="normal" text-anchor="start" fill="#000000" >Y + 3</text>
<text x="1178.60" y="2499.70" font-size="38.3" font-weight="bold">Frontjahre Peak in Euro/MWh</text>
<text x="1730.00" y="2499.70" font-size="38" letter-spacing="-2.6">(EEX)</text>
<line x1="1236" y1="2527.00" x2="2250" y2="2527.00" stroke="#7d7d7d" stroke-width="1.8"/>
<g transform="translate(1229.00,2538.20) scale(0.88,1)"><text x="0" y="0" font-size="31" font-weight="bold" text-anchor="end" fill="#7f7f7f">120</text></g>
<line x1="1236" y1="2661.80" x2="2250" y2="2661.80" stroke="#7d7d7d" stroke-width="1.8"/>
<g transform="translate(1229.00,2673.00) scale(0.88,1)"><text x="0" y="0" font-size="31" font-weight="bold" text-anchor="end" fill="#7f7f7f">105</text></g>
<line x1="1236" y1="2796.60" x2="2250" y2="2796.60" stroke="#7d7d7d" stroke-width="1.8"/>
<g transform="translate(1229.00,2807.80) scale(0.88,1)"><text x="0" y="0" font-size="31" font-weight="bold" text-anchor="end" fill="#7f7f7f">90</text></g>
<line x1="1236" y1="2931.40" x2="2250" y2="2931.40" stroke="#7d7d7d" stroke-width="1.8"/>
<g transform="translate(1229.00,2942.60) scale(0.88,1)"><text x="0" y="0" font-size="31" font-weight="bold" text-anchor="end" fill="#7f7f7f">75</text></g>
<line x1="1236" y1="3066.20" x2="2250" y2="3066.20" stroke="#7d7d7d" stroke-width="1.8"/>
<g transform="translate(1229.00,3077.40) scale(0.88,1)"><text x="0" y="0" font-size="31" font-weight="bold" text-anchor="end" fill="#7f7f7f">60</text></g>
<line x1="1253.00" y1="2527.00" x2="1253.00" y2="3076.70" stroke="#7d7d7d" stroke-width="1.8"/>
<line x1="1300.60" y1="2527.00" x2="1300.60" y2="3076.70" stroke="#7d7d7d" stroke-width="1.8"/>
<line x1="1388.20" y1="2527.00" x2="1388.20" y2="3076.70" stroke="#7d7d7d" stroke-width="1.8"/>
<line x1="1472.20" y1="2527.00" x2="1472.20" y2="3076.70" stroke="#7d7d7d" stroke-width="1.8"/>
<line x1="1559.70" y1="2527.00" x2="1559.70" y2="3076.70" stroke="#7d7d7d" stroke-width="1.8"/>
<line x1="1649.50" y1="2527.00" x2="1649.50" y2="3076.70" stroke="#7d7d7d" stroke-width="1.8"/>
<line x1="1730.90" y1="2527.00" x2="1730.90" y2="3076.70" stroke="#7d7d7d" stroke-width="1.8"/>
<line x1="1818.30" y1="2527.00" x2="1818.30" y2="3076.70" stroke="#7d7d7d" stroke-width="1.8"/>
<line x1="1905.20" y1="2527.00" x2="1905.20" y2="3076.70" stroke="#7d7d7d" stroke-width="1.8"/>
<line x1="1989.90" y1="2527.00" x2="1989.90" y2="3076.70" stroke="#7d7d7d" stroke-width="1.8"/>
<line x1="2076.80" y1="2527.00" x2="2076.80" y2="3076.70" stroke="#7d7d7d" stroke-width="1.8"/>
<line x1="2155.90" y1="2527.00" x2="2155.90" y2="3076.70" stroke="#7d7d7d" stroke-width="1.8"/>
<line x1="2242.70" y1="2527.00" x2="2242.70" y2="3076.70" stroke="#7d7d7d" stroke-width="1.8"/>
<g transform="translate(1300.60,3108.50) scale(0.83,1)"><text x="0" y="0" font-size="31" font-weight="bold" text-anchor="middle" fill="#7f7f7f">Mai</text></g>
<g transform="translate(1388.20,3108.50) scale(0.83,1)"><text x="0" y="0" font-size="31" font-weight="bold" text-anchor="middle" fill="#7f7f7f">Jun</text></g>
<g transform="translate(1472.20,3108.50) scale(0.83,1)"><text x="0" y="0" font-size="31" font-weight="bold" text-anchor="middle" fill="#7f7f7f">Jul</text></g>
<g transform="translate(1559.70,3105.90) scale(0.83,1)"><text x="0" y="0" font-size="31" font-weight="bold" text-anchor="middle" fill="#7f7f7f">Aug</text></g>
<g transform="translate(1649.50,3105.90) scale(0.83,1)"><text x="0" y="0" font-size="31" font-weight="bold" text-anchor="middle" fill="#7f7f7f">Sep</text></g>
<g transform="translate(1730.90,3108.50) scale(0.83,1)"><text x="0" y="0" font-size="31" font-weight="bold" text-anchor="middle" fill="#7f7f7f">Okt</text></g>
<g transform="translate(1818.30,3108.50) scale(0.83,1)"><text x="0" y="0" font-size="31" font-weight="bold" text-anchor="middle" fill="#7f7f7f">Nov</text></g>
<g transform="translate(1905.20,3108.50) scale(0.83,1)"><text x="0" y="0" font-size="31" font-weight="bold" text-anchor="middle" fill="#7f7f7f">Dez</text></g>
<g transform="translate(1989.90,3108.50) scale(0.83,1)"><text x="0" y="0" font-size="31" font-weight="bold" text-anchor="middle" fill="#7f7f7f">Jan</text></g>
<g transform="translate(2076.80,3108.50) scale(0.83,1)"><text x="0" y="0" font-size="31" font-weight="bold" text-anchor="middle" fill="#7f7f7f">Feb</text></g>
<g transform="translate(2155.90,3108.50) scale(0.83,1)"><text x="0" y="0" font-size="31" font-weight="bold" text-anchor="middle" fill="#7f7f7f">Mrz</text></g>
<g transform="translate(2243.00,3105.90) scale(0.83,1)"><text x="0" y="0" font-size="31" font-weight="bold" text-anchor="end" fill="#7f7f7f">Apr</text></g>
<polyline points="1252.8,2841.1 1258.4,2823.8 1261.6,2825.8 1272.0,2825.8 1278.5,2830.7 1284.1,2835.9 1289.7,2835.9 1295.6,2850.7 1297.7,2836.3 1300.9,2836.3 1306.5,2819.4 1309.7,2819.4 1316.1,2806.6 1320.9,2797.0 1324.1,2803.9 1329.8,2803.9 1334.9,2781.8 1337.8,2797.5 1341.0,2798.1 1344.2,2793.8 1353.8,2794.3 1357.0,2791.4 1362.6,2799.4 1369.8,2799.7 1375.4,2802.6 1378.7,2813.8 1381.9,2819.9 1388.3,2819.9 1393.1,2815.4 1397.1,2813.0 1399.5,2809.0 1408.3,2809.8 1413.9,2821.0 1417.1,2807.4 1421.1,2777.7 1427.5,2777.7 1433.2,2784.2 1438.8,2776.1 1441.2,2787.8 1446.8,2787.8 1451.6,2801.8 1458.0,2821.0 1461.2,2817.8 1469.2,2817.8 1478.0,2814.6 1481.2,2816.7 1486.9,2817.0 1494.9,2823.4 1500.5,2817.8 1508.0,2817.8 1514.2,2819.4 1520.6,2824.2 1526.2,2824.2 1531.9,2832.3 1535.1,2829.8 1539.9,2817.8 1546.3,2817.8 1551.1,2802.6 1554.3,2802.3 1557.5,2807.4 1559.9,2822.6 1566.3,2822.6 1571.1,2816.2 1573.5,2824.2 1579.9,2830.2 1584.8,2830.2 1591.2,2835.5 1596.0,2831.5 1599.2,2842.7 1605.6,2842.7 1612.0,2836.3 1613.6,2841.1 1616.0,2825.0 1620.0,2822.2 1630.4,2823.4 1632.8,2830.7 1636.1,2834.7 1638.5,2828.6 1644.1,2828.6 1650.5,2818.6 1656.9,2810.6 1663.3,2810.3 1672.1,2806.6 1675.3,2814.6 1678.5,2812.2 1683.3,2812.2 1690.6,2807.7 1697.0,2801.8 1709.0,2802.6 1711.4,2808.7 1715.4,2807.7 1717.0,2800.7 1722.6,2800.7 1728.2,2809.8 1731.4,2801.8 1736.2,2791.4 1742.7,2791.1 1748.3,2781.0 1750.7,2786.6 1756.3,2783.7 1763.0,2783.7 1767.6,2799.4 1770.8,2797.0 1773.2,2787.4 1777.2,2789.8 1782.0,2789.8 1790.1,2793.8 1792.5,2788.2 1796.5,2789.5 1801.3,2789.5 1806.9,2795.4 1810.1,2791.4 1815.7,2797.0 1822.1,2797.0 1826.1,2768.1 1830.1,2767.3 1834.9,2780.5 1840.6,2780.5 1847.0,2783.0 1850.2,2781.0 1852.6,2782.1 1855.0,2778.9 1860.6,2778.9 1866.2,2771.3 1869.4,2775.3 1871.8,2763.3 1875.0,2775.3 1880.6,2775.3 1886.2,2783.0 1889.5,2784.6 1891.9,2789.8 1894.3,2782.6 1900.7,2782.6 1904.7,2812.2 1907.9,2813.0 1912.7,2822.6 1919.1,2824.2 1924.7,2829.8 1927.9,2845.9 1932.7,2820.2 1939.1,2820.2 1944.8,2832.3 1951.2,2829.5 1953.6,2820.2 1959.2,2820.2 1964.8,2814.6 1978.4,2814.6 1984.0,2819.4 1988.8,2819.4 1994.5,2814.1 1998.5,2814.1 2004.1,2828.2 2006.5,2821.8 2009.7,2828.2 2012.9,2816.7 2018.0,2816.7 2022.6,2802.9 2028.5,2794.0 2031.5,2783.6 2038.2,2783.6 2043.4,2814.0 2045.6,2790.3 2049.3,2781.4 2052.2,2791.0 2057.4,2791.0 2063.3,2799.2 2066.3,2799.9 2069.0,2788.1 2071.5,2801.4 2076.7,2802.1 2082.6,2819.9 2085.6,2816.2 2087.8,2830.3 2091.5,2822.1 2096.7,2822.1 2101.8,2826.6 2104.8,2834.0 2110.0,2874.7 2116.7,2874.7 2122.6,2876.9 2125.5,2845.8 2130.0,2831.0 2136.6,2831.0 2141.8,2850.3 2147.0,2846.6 2150.0,2849.5 2155.9,2849.5 2161.1,2764.4 2164.0,2794.7 2167.7,2765.9 2170.0,2727.4 2175.2,2727.4 2181.1,2718.5 2184.0,2716.0 2187.0,2720.7 2194.4,2720.0 2201.1,2723.4 2204.8,2716.3 2207.0,2660.0 2209.9,2651.8 2215.1,2651.8 2219.6,2667.4 2223.0,2702.9 2225.5,2661.5 2229.2,2677.0 2235.1,2677.0 2240.3,2694.0 2242.5,2712.6 2246.2,2714.0" fill="none" stroke="#c0000f" stroke-width="4.2" stroke-linejoin="miter" stroke-miterlimit="10"/>
<polyline points="1252.8,2894.8 1258.4,2886.0 1262.4,2889.2 1272.0,2889.2 1278.5,2895.6 1284.1,2896.9 1289.7,2896.9 1295.6,2898.8 1297.7,2890.8 1300.9,2890.8 1307.3,2883.6 1309.7,2882.8 1316.1,2869.9 1320.9,2865.9 1328.2,2865.9 1335.4,2861.1 1338.6,2872.3 1343.4,2877.9 1349.0,2877.9 1354.6,2873.9 1358.6,2876.0 1363.4,2880.3 1369.0,2881.1 1374.6,2886.0 1379.5,2890.8 1383.5,2890.0 1393.1,2890.8 1397.1,2892.4 1399.5,2886.0 1408.3,2886.0 1412.3,2894.8 1416.3,2879.5 1420.3,2868.6 1427.5,2869.1 1434.0,2872.3 1438.8,2865.1 1441.2,2873.9 1446.8,2873.9 1452.4,2877.9 1458.0,2887.6 1462.8,2889.2 1466.8,2890.0 1472.4,2894.8 1478.0,2881.1 1482.0,2883.6 1486.9,2883.6 1492.5,2892.4 1498.1,2889.2 1508.0,2888.4 1514.2,2886.0 1520.6,2893.2 1525.4,2893.2 1531.1,2895.6 1540.7,2890.0 1547.9,2890.0 1554.3,2878.3 1560.7,2884.0 1567.1,2884.4 1571.9,2886.8 1574.3,2895.3 1579.1,2883.6 1584.8,2883.6 1591.2,2891.6 1593.6,2887.6 1599.2,2895.9 1605.6,2895.9 1613.6,2894.0 1618.4,2886.0 1624.8,2886.0 1630.4,2884.0 1636.1,2893.7 1639.3,2885.6 1644.1,2885.6 1650.5,2875.5 1656.1,2869.9 1663.3,2869.9 1669.7,2867.5 1674.5,2871.5 1677.7,2868.3 1683.3,2868.3 1691.4,2862.7 1694.6,2851.5 1703.4,2852.3 1712.2,2857.1 1716.2,2854.7 1722.6,2854.7 1728.2,2860.0 1733.0,2851.5 1736.2,2844.3 1741.9,2844.3 1748.3,2837.9 1753.1,2840.3 1756.3,2835.5 1763.0,2835.5 1769.2,2845.1 1771.6,2845.1 1773.2,2835.5 1778.8,2838.2 1788.5,2837.1 1793.3,2834.7 1796.5,2837.9 1801.3,2837.9 1806.9,2844.3 1811.7,2844.3 1816.5,2847.2 1822.1,2847.2 1826.1,2822.2 1830.1,2823.4 1835.7,2835.9 1844.6,2834.7 1848.6,2830.7 1851.8,2832.7 1855.0,2828.2 1860.6,2827.4 1868.6,2824.7 1871.8,2822.6 1880.6,2823.4 1886.2,2829.8 1891.1,2828.2 1894.3,2821.8 1900.7,2821.8 1905.5,2841.1 1908.7,2837.9 1914.3,2848.8 1920.7,2849.1 1925.5,2852.3 1928.2,2865.1 1933.5,2850.4 1939.1,2850.7 1946.4,2855.2 1950.4,2853.6 1953.6,2854.7 1959.2,2854.7 1964.8,2850.7 1978.4,2850.7 1984.0,2849.9 1990.4,2849.4 1996.9,2846.7 2004.1,2855.5 2007.3,2852.3 2009.7,2857.9 2012.9,2852.6 2018.0,2852.3 2024.1,2842.9 2028.5,2840.6 2031.5,2831.8 2038.2,2831.8 2043.4,2859.9 2047.8,2842.9 2057.4,2842.1 2063.3,2858.4 2068.5,2854.0 2071.5,2865.8 2076.7,2865.8 2085.6,2870.3 2088.5,2885.8 2095.9,2885.8 2102.6,2890.3 2105.6,2896.9 2110.7,2931.0 2116.7,2931.0 2121.1,2924.3 2124.8,2905.8 2130.7,2895.4 2136.6,2895.4 2141.8,2909.5 2144.8,2907.3 2150.0,2908.8 2155.9,2908.8 2161.1,2862.9 2164.0,2894.0 2167.0,2894.0 2170.0,2871.0 2180.3,2871.0 2187.0,2883.6 2194.4,2883.6 2201.1,2886.5 2204.8,2882.8 2209.2,2845.1 2214.4,2845.1 2219.6,2831.8 2223.3,2836.2 2225.5,2829.5 2235.1,2832.5 2242.5,2850.3 2246.2,2847.3" fill="none" stroke="#00238c" stroke-width="4.2" stroke-linejoin="miter" stroke-miterlimit="10"/>
<polyline points="1252.8,2887.6 1259.2,2880.3 1262.4,2882.8 1272.8,2882.8 1278.5,2887.6 1284.9,2893.2 1290.5,2893.2 1295.6,2906.0 1299.3,2901.2 1301.7,2901.2 1307.3,2892.4 1309.7,2891.6 1316.1,2878.7 1320.1,2873.1 1324.9,2876.0 1329.8,2876.0 1335.4,2866.7 1342.6,2894.0 1349.0,2894.0 1355.4,2897.2 1357.8,2894.8 1363.4,2900.7 1369.8,2900.7 1379.5,2899.6 1382.7,2910.0 1389.1,2910.0 1393.9,2891.6 1397.1,2898.0 1399.5,2894.0 1408.3,2895.6 1413.9,2909.2 1416.3,2881.9 1419.8,2894.8 1422.7,2877.1 1427.5,2877.1 1437.2,2888.4 1439.6,2890.0 1442.0,2899.6 1446.8,2899.6 1453.2,2916.4 1456.4,2911.6 1461.2,2904.4 1466.8,2904.4 1472.4,2901.2 1478.0,2895.6 1486.9,2895.6 1492.5,2899.6 1495.7,2898.0 1498.9,2888.4 1508.0,2891.6 1511.8,2902.8 1515.0,2895.6 1520.6,2900.4 1525.4,2900.4 1531.9,2897.2 1535.1,2895.9 1539.9,2887.9 1546.3,2887.9 1550.3,2889.2 1554.3,2886.8 1556.7,2895.6 1560.7,2898.5 1565.5,2898.5 1571.9,2902.3 1576.7,2905.2 1579.9,2903.3 1589.6,2903.3 1594.4,2905.2 1599.2,2912.9 1604.8,2912.9 1611.2,2908.4 1617.6,2908.4 1621.6,2909.2 1632.8,2909.7 1635.3,2918.3 1638.5,2914.0 1644.1,2914.0 1650.5,2908.4 1655.3,2903.9 1669.7,2904.9 1675.3,2910.0 1679.3,2908.4 1683.3,2908.4 1691.4,2906.0 1694.6,2900.1 1703.4,2899.6 1709.0,2901.7 1712.2,2904.4 1715.4,2905.2 1717.8,2900.4 1722.6,2900.4 1729.0,2901.7 1731.4,2901.7 1737.0,2896.9 1742.7,2896.4 1748.3,2890.0 1756.3,2886.3 1763.0,2886.3 1768.4,2889.2 1770.8,2885.2 1774.8,2887.2 1782.0,2887.2 1787.7,2888.4 1793.3,2885.2 1806.1,2886.3 1809.3,2884.0 1819.7,2882.4 1822.1,2882.8 1826.1,2864.8 1829.3,2869.1 1831.7,2867.5 1834.9,2871.5 1848.6,2872.3 1855.0,2865.9 1860.6,2865.9 1867.0,2861.9 1869.4,2863.5 1871.8,2857.9 1874.2,2870.2 1884.6,2870.2 1891.1,2868.3 1894.3,2862.7 1899.9,2862.7 1905.5,2872.3 1908.7,2870.7 1914.3,2875.5 1919.1,2875.5 1925.5,2881.9 1927.9,2893.2 1933.5,2877.6 1939.1,2877.6 1949.6,2882.8 1952.8,2877.9 1958.4,2877.9 1964.8,2868.3 1979.2,2868.3 1984.0,2881.1 1988.8,2881.1 1996.1,2875.5 2001.7,2877.9 2006.5,2877.6 2009.7,2881.9 2012.1,2877.1 2018.0,2876.3 2022.6,2868.8 2028.5,2871.7 2031.5,2864.3 2038.2,2864.3 2043.4,2886.5 2045.6,2879.1 2049.3,2882.1 2052.2,2888.0 2057.4,2888.0 2062.6,2899.9 2066.3,2896.2 2069.0,2895.4 2072.2,2898.4 2076.7,2898.4 2082.6,2907.3 2085.6,2905.1 2088.5,2916.2 2096.7,2916.2 2101.8,2919.9 2105.6,2927.3 2107.8,2937.6 2111.5,2932.5 2118.1,2932.5 2122.6,2933.9 2127.8,2911.0 2131.5,2909.5 2135.9,2909.5 2141.8,2922.8 2147.0,2924.3 2150.0,2925.8 2155.9,2925.8 2161.8,2895.4 2165.5,2895.4 2167.7,2904.3 2170.7,2895.4 2175.9,2895.4 2187.0,2914.7 2190.7,2916.9 2195.9,2916.9 2201.1,2922.1 2204.8,2918.4 2209.2,2905.8 2215.1,2905.8 2220.3,2882.1 2224.8,2876.9 2229.2,2871.7 2235.9,2871.7 2241.8,2874.7 2246.2,2877.7" fill="none" stroke="#000000" stroke-width="4.2" stroke-linejoin="miter" stroke-miterlimit="10"/>
<rect x="1535.50" y="3143.30" width="44.00" height="3.40" fill="#c0000f"/>
<text x="1600.30" y="3156.20" font-size="33.8" font-weight="normal" text-anchor="start" fill="#c0000f" >Y + 1</text>
<rect x="1783.70" y="3143.30" width="44.00" height="3.40" fill="#00238c"/>
<text x="1848.50" y="3156.20" font-size="33.8" font-weight="normal" text-anchor="start" fill="#00238c" >Y + 2</text>
<rect x="2031.90" y="3143.30" width="44.00" height="3.40" fill="#000000"/>
<text x="2096.70" y="3156.20" font-size="33.8" font-weight="normal" text-anchor="start" fill="#000000" >Y + 3</text>
</svg></body></html>
